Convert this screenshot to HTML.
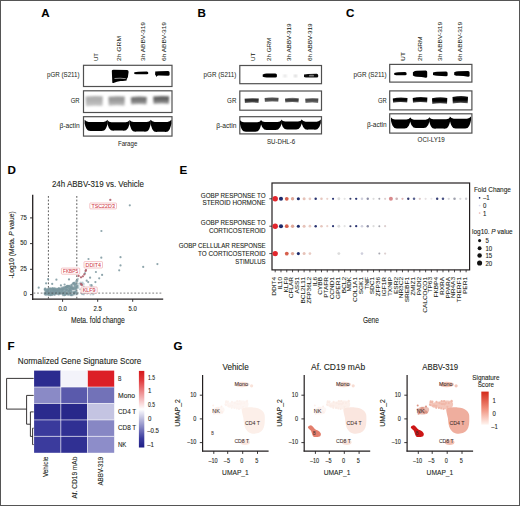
<!DOCTYPE html><html><head><meta charset="utf-8"><title>Figure</title><style>html,body{margin:0;padding:0;background:#fff;width:520px;height:506px;overflow:hidden}svg{display:block;font-family:"Liberation Sans",sans-serif}</style></head><body><svg width="520" height="506" viewBox="0 0 520 506" font-family="Liberation Sans, sans-serif" fill="#231f20"><defs><filter id="b1" x="-20%" y="-40%" width="140%" height="180%"><feGaussianBlur stdDeviation="0.1"/></filter><filter id="b2" x="-20%" y="-40%" width="140%" height="180%"><feGaussianBlur stdDeviation="0.2"/></filter><filter id="b3" x="-20%" y="-40%" width="140%" height="180%"><feGaussianBlur stdDeviation="0.3"/></filter><filter id="b4" x="-20%" y="-40%" width="140%" height="180%"><feGaussianBlur stdDeviation="0.4"/></filter><filter id="b5" x="-20%" y="-40%" width="140%" height="180%"><feGaussianBlur stdDeviation="0.5"/></filter><filter id="b6" x="-20%" y="-40%" width="140%" height="180%"><feGaussianBlur stdDeviation="0.6"/></filter><filter id="b7" x="-20%" y="-40%" width="140%" height="180%"><feGaussianBlur stdDeviation="0.7"/></filter><filter id="b8" x="-20%" y="-40%" width="140%" height="180%"><feGaussianBlur stdDeviation="0.8"/></filter><filter id="b9" x="-20%" y="-40%" width="140%" height="180%"><feGaussianBlur stdDeviation="0.9"/></filter><filter id="b10" x="-20%" y="-40%" width="140%" height="180%"><feGaussianBlur stdDeviation="1.0"/></filter><filter id="b11" x="-20%" y="-40%" width="140%" height="180%"><feGaussianBlur stdDeviation="1.1"/></filter><filter id="b12" x="-20%" y="-40%" width="140%" height="180%"><feGaussianBlur stdDeviation="1.2"/></filter><filter id="b13" x="-20%" y="-40%" width="140%" height="180%"><feGaussianBlur stdDeviation="1.3"/></filter><filter id="b14" x="-20%" y="-40%" width="140%" height="180%"><feGaussianBlur stdDeviation="1.4"/></filter><filter id="b15" x="-20%" y="-40%" width="140%" height="180%"><feGaussianBlur stdDeviation="1.5"/></filter></defs><rect x="0" y="0" width="520" height="506" fill="#fff"/><text x="41.20" y="16.60" font-size="11.60" fill="#000" stroke="#000" stroke-width="0.1" font-weight="bold">A</text>
<text x="197.60" y="16.50" font-size="11.60" fill="#000" stroke="#000" stroke-width="0.1" font-weight="bold">B</text>
<text x="346.00" y="16.60" font-size="11.60" fill="#000" stroke="#000" stroke-width="0.1" font-weight="bold">C</text>
<text x="7.40" y="174.30" font-size="11.60" fill="#000" stroke="#000" stroke-width="0.1" font-weight="bold">D</text>
<text x="179.40" y="174.30" font-size="11.60" fill="#000" stroke="#000" stroke-width="0.1" font-weight="bold">E</text>
<text x="7.40" y="350.30" font-size="11.60" fill="#000" stroke="#000" stroke-width="0.1" font-weight="bold">F</text>
<text x="173.40" y="350.40" font-size="11.60" fill="#000" stroke="#000" stroke-width="0.1" font-weight="bold">G</text>
<rect x="83.50" y="65.30" width="88.50" height="21.20" fill="none" stroke="#505050" stroke-width="1.2"/>
<rect x="83.50" y="90.80" width="88.50" height="21.70" fill="none" stroke="#505050" stroke-width="1.2"/>
<rect x="83.50" y="116.70" width="88.50" height="19.40" fill="none" stroke="#505050" stroke-width="1.2"/>
<text transform="translate(98.00,61.00) rotate(-90)" font-size="5.90" stroke="#231f20" stroke-width="0.04" textLength="8.00" lengthAdjust="spacingAndGlyphs">UT</text>
<text transform="translate(120.80,61.00) rotate(-90)" font-size="5.90" stroke="#231f20" stroke-width="0.04" textLength="25.00" lengthAdjust="spacingAndGlyphs">2h GRM</text>
<text transform="translate(144.60,61.00) rotate(-90)" font-size="5.90" stroke="#231f20" stroke-width="0.04" textLength="39.00" lengthAdjust="spacingAndGlyphs">3h ABBV-319</text>
<text transform="translate(166.30,61.00) rotate(-90)" font-size="5.90" stroke="#231f20" stroke-width="0.04" textLength="39.00" lengthAdjust="spacingAndGlyphs">6h ABBV-319</text>
<text x="79.60" y="76.50" font-size="6.50" text-anchor="end" stroke="#231f20" stroke-width="0.03" textLength="32.60" lengthAdjust="spacingAndGlyphs">pGR (S211)</text>
<text x="79.60" y="102.80" font-size="6.50" text-anchor="end" stroke="#231f20" stroke-width="0.03" textLength="8.90" lengthAdjust="spacingAndGlyphs">GR</text>
<text x="79.60" y="127.70" font-size="6.50" text-anchor="end" stroke="#231f20" stroke-width="0.03" textLength="20.10" lengthAdjust="spacingAndGlyphs">β-actin</text>
<text x="127.60" y="146.20" font-size="6.60" text-anchor="middle" stroke="#231f20" stroke-width="0.03" textLength="19.40" lengthAdjust="spacingAndGlyphs">Farage</text>
<rect x="239.80" y="65.50" width="81.70" height="18.20" fill="none" stroke="#505050" stroke-width="1.2"/>
<rect x="239.80" y="91.00" width="81.70" height="19.20" fill="none" stroke="#505050" stroke-width="1.2"/>
<rect x="239.80" y="116.70" width="81.70" height="17.20" fill="none" stroke="#505050" stroke-width="1.2"/>
<text transform="translate(254.60,61.00) rotate(-90)" font-size="5.90" stroke="#231f20" stroke-width="0.04" textLength="8.30" lengthAdjust="spacingAndGlyphs">UT</text>
<text transform="translate(270.60,61.00) rotate(-90)" font-size="5.90" stroke="#231f20" stroke-width="0.04" textLength="23.20" lengthAdjust="spacingAndGlyphs">2h GRM</text>
<text transform="translate(290.90,61.00) rotate(-90)" font-size="5.90" stroke="#231f20" stroke-width="0.04" textLength="37.50" lengthAdjust="spacingAndGlyphs">3h ABBV-319</text>
<text transform="translate(311.50,61.00) rotate(-90)" font-size="5.90" stroke="#231f20" stroke-width="0.04" textLength="37.50" lengthAdjust="spacingAndGlyphs">6h ABBV-319</text>
<text x="236.40" y="76.50" font-size="6.50" text-anchor="end" stroke="#231f20" stroke-width="0.03" textLength="32.80" lengthAdjust="spacingAndGlyphs">pGR (S211)</text>
<text x="236.40" y="103.00" font-size="6.50" text-anchor="end" stroke="#231f20" stroke-width="0.03" textLength="9.30" lengthAdjust="spacingAndGlyphs">GR</text>
<text x="236.40" y="127.70" font-size="6.50" text-anchor="end" stroke="#231f20" stroke-width="0.03" textLength="20.20" lengthAdjust="spacingAndGlyphs">β-actin</text>
<text x="281.10" y="143.60" font-size="6.60" text-anchor="middle" stroke="#231f20" stroke-width="0.03" textLength="28.30" lengthAdjust="spacingAndGlyphs">SU-DHL-6</text>
<rect x="389.70" y="64.40" width="82.20" height="17.70" fill="none" stroke="#505050" stroke-width="1.2"/>
<rect x="389.70" y="90.90" width="82.20" height="19.00" fill="none" stroke="#505050" stroke-width="1.2"/>
<rect x="389.70" y="113.80" width="82.20" height="19.30" fill="none" stroke="#505050" stroke-width="1.2"/>
<text transform="translate(404.60,61.00) rotate(-90)" font-size="5.90" stroke="#231f20" stroke-width="0.04" textLength="9.00" lengthAdjust="spacingAndGlyphs">UT</text>
<text transform="translate(421.80,61.00) rotate(-90)" font-size="5.90" stroke="#231f20" stroke-width="0.04" textLength="24.50" lengthAdjust="spacingAndGlyphs">2h GRM</text>
<text transform="translate(442.00,61.00) rotate(-90)" font-size="5.90" stroke="#231f20" stroke-width="0.04" textLength="39.10" lengthAdjust="spacingAndGlyphs">3h ABBV-319</text>
<text transform="translate(462.30,61.00) rotate(-90)" font-size="5.90" stroke="#231f20" stroke-width="0.04" textLength="39.10" lengthAdjust="spacingAndGlyphs">6h ABBV-319</text>
<text x="386.70" y="76.70" font-size="6.50" text-anchor="end" stroke="#231f20" stroke-width="0.03" textLength="33.20" lengthAdjust="spacingAndGlyphs">pGR (S211)</text>
<text x="386.70" y="102.90" font-size="6.50" text-anchor="end" stroke="#231f20" stroke-width="0.03" textLength="8.70" lengthAdjust="spacingAndGlyphs">GR</text>
<text x="386.70" y="127.20" font-size="6.50" text-anchor="end" stroke="#231f20" stroke-width="0.03" textLength="19.80" lengthAdjust="spacingAndGlyphs">β-actin</text>
<text x="431.20" y="142.40" font-size="6.60" text-anchor="middle" stroke="#231f20" stroke-width="0.03" textLength="27.20" lengthAdjust="spacingAndGlyphs">OCI-LY19</text>
<path d="M111.8,70.8 Q112,69.8 113.5,69.8 L127.3,69.9 Q128.8,70.1 128.6,72 L127.9,77 Q127.6,78.2 126.8,78.8 L126.6,80.6 Q124.5,81.3 120.5,81 Q116.5,81.6 114.2,82.8 Q112.6,83.4 112.3,82.4 Z" fill="#000" filter="url(#b5)"/>
<path d="M114.5,78.5 Q120,77.8 125.8,78.7" stroke="#a0a0a0" stroke-width="0.9" fill="none" filter="url(#b4)"/>
<path d="M134.30,72.17 Q136.30,71.80 138.30,71.80 L146.80,71.60 Q148.30,71.80 148.30,73.00 L148.30,73.30 Q148.30,74.30 146.80,74.30 Q143.30,74.30 138.30,74.30 Q136.30,74.30 134.30,73.92 Z" fill="#000" filter="url(#b5)"/>
<path d="M155.20,71.51 Q157.20,71.30 159.20,71.30 L168.10,71.10 Q169.60,71.30 169.60,72.50 L169.60,74.80 Q169.60,75.80 168.10,75.80 Q164.40,75.50 159.20,75.50 Q157.20,75.50 155.20,75.29 Z" fill="#000" filter="url(#b5)"/>
<path d="M155.4,73 L156.3,77 L158,75 Z" fill="#000" filter="url(#b5)"/>
<defs><linearGradient id="g45" x1="0" y1="0" x2="0" y2="1"><stop offset="0" stop-color="#b0b0b0"/><stop offset="0.45" stop-color="#b0b0b0"/><stop offset="1" stop-color="#cacaca"/></linearGradient></defs>
<path d="M85.60,96.60 Q94.20,95.40 102.80,96.36 L102.50,106.08 Q94.20,105.24 85.90,106.20 Z" fill="url(#g45)" filter="url(#b8)"/>
<defs><linearGradient id="g47" x1="0" y1="0" x2="0" y2="1"><stop offset="0" stop-color="#9a9a9a"/><stop offset="0.45" stop-color="#9a9a9a"/><stop offset="1" stop-color="#c2c2c2"/></linearGradient></defs>
<path d="M108.40,96.80 Q116.60,95.60 124.80,96.56 L124.50,105.68 Q116.60,104.84 108.70,105.80 Z" fill="url(#g47)" filter="url(#b8)"/>
<defs><linearGradient id="g49" x1="0" y1="0" x2="0" y2="1"><stop offset="0" stop-color="#747474"/><stop offset="0.45" stop-color="#747474"/><stop offset="1" stop-color="#b0b0b0"/></linearGradient></defs>
<path d="M130.80,97.20 Q138.80,96.00 146.80,96.96 L146.50,104.48 Q138.80,103.64 131.10,104.60 Z" fill="url(#g49)" filter="url(#b8)"/>
<defs><linearGradient id="g51" x1="0" y1="0" x2="0" y2="1"><stop offset="0" stop-color="#636363"/><stop offset="0.45" stop-color="#636363"/><stop offset="1" stop-color="#a8a8a8"/></linearGradient></defs>
<path d="M153.20,96.60 Q161.20,95.40 169.20,96.36 L168.90,103.88 Q161.20,103.04 153.50,104.00 Z" fill="url(#g51)" filter="url(#b8)"/>
<path d="M84.60,119.80 Q86.10,121.60 88.60,121.90 L103.60,121.90 Q106.10,121.60 107.60,119.80 L107.60,123.50 Q106.40,129.00 104.10,130.60 Q102.60,131.30 100.60,131.00 L91.60,131.00 Q89.60,131.30 88.10,130.60 Q85.80,129.00 84.60,123.50 Z" fill="#000" filter="url(#b5)"/>
<path d="M107.40,120.20 Q108.90,122.00 111.40,122.30 L125.60,122.30 Q128.10,122.00 129.60,120.20 L129.60,123.90 Q128.40,128.60 126.10,130.20 Q124.60,130.90 122.60,130.60 L114.40,130.60 Q112.40,130.90 110.90,130.20 Q108.60,128.60 107.40,123.90 Z" fill="#000" filter="url(#b5)"/>
<path d="M129.60,120.00 Q131.10,121.80 133.60,122.10 L146.80,122.10 Q149.30,121.80 150.80,120.00 L150.80,123.70 Q149.60,129.60 147.30,131.20 Q145.80,131.90 143.80,131.60 L136.60,131.60 Q134.60,131.90 133.10,131.20 Q130.80,129.60 129.60,123.70 Z" fill="#000" filter="url(#b5)"/>
<path d="M150.60,119.80 Q152.10,121.60 154.60,121.90 L167.40,121.90 Q169.90,121.60 171.40,119.80 L171.40,123.50 Q170.20,129.80 167.90,131.40 Q166.40,132.10 164.40,131.80 L157.60,131.80 Q155.60,132.10 154.10,131.40 Q151.80,129.80 150.60,123.50 Z" fill="#000" filter="url(#b5)"/>
<path d="M262.70,74.40 Q264.70,73.60 266.70,73.60 L275.40,73.40 Q276.90,73.60 276.90,74.80 L276.90,76.60 Q276.90,77.60 275.40,77.60 Q271.80,77.60 266.70,77.60 Q264.70,77.60 262.70,76.80 Z" fill="#000" filter="url(#b5)"/>
<rect x="283.50" y="75.00" width="3.00" height="1.80" rx="1" fill="#ccc" opacity="1" filter="url(#b8)"/>
<rect x="294.00" y="75.00" width="3.00" height="1.80" rx="1" fill="#bbb" opacity="1" filter="url(#b8)"/>
<path d="M304.00,74.51 Q306.00,74.00 308.00,74.00 L316.70,73.80 Q318.20,74.00 318.20,75.20 L318.20,76.40 Q318.20,77.40 316.70,77.40 Q313.10,77.40 308.00,77.40 Q306.00,77.40 304.00,76.89 Z" fill="#111" filter="url(#b5)"/>
<rect x="309.00" y="74.80" width="5.00" height="1.80" rx="1" fill="#777" opacity="1" filter="url(#b6)"/>
<defs><linearGradient id="g62" x1="0" y1="0" x2="0" y2="1"><stop offset="0" stop-color="#999"/><stop offset="0.3" stop-color="#333"/><stop offset="0.6" stop-color="#333"/><stop offset="1" stop-color="#777"/></linearGradient></defs>
<path d="M244.60,98.60 Q251.70,97.40 258.80,98.36 L258.50,102.88 Q251.70,102.04 244.90,103.00 Z" fill="url(#g62)" filter="url(#b6)"/>
<defs><linearGradient id="g64" x1="0" y1="0" x2="0" y2="1"><stop offset="0" stop-color="#999"/><stop offset="0.3" stop-color="#4a4a4a"/><stop offset="0.6" stop-color="#4a4a4a"/><stop offset="1" stop-color="#888"/></linearGradient></defs>
<path d="M264.60,97.90 Q271.60,96.70 278.60,97.66 L278.30,101.78 Q271.60,100.94 264.90,101.90 Z" fill="url(#g64)" filter="url(#b6)"/>
<defs><linearGradient id="g66" x1="0" y1="0" x2="0" y2="1"><stop offset="0" stop-color="#999"/><stop offset="0.3" stop-color="#404040"/><stop offset="0.6" stop-color="#404040"/><stop offset="1" stop-color="#808080"/></linearGradient></defs>
<path d="M285.00,98.40 Q291.90,97.20 298.80,98.16 L298.50,102.38 Q291.90,101.54 285.30,102.50 Z" fill="url(#g66)" filter="url(#b6)"/>
<defs><linearGradient id="g68" x1="0" y1="0" x2="0" y2="1"><stop offset="0" stop-color="#999"/><stop offset="0.3" stop-color="#4e4e4e"/><stop offset="0.6" stop-color="#4e4e4e"/><stop offset="1" stop-color="#8a8a8a"/></linearGradient></defs>
<path d="M305.20,98.60 Q311.80,97.40 318.40,98.36 L318.10,102.88 Q311.80,102.04 305.50,103.00 Z" fill="url(#g68)" filter="url(#b6)"/>
<path d="M240.00,120.20 Q241.50,122.00 244.00,122.30 L257.20,122.30 Q259.70,122.00 261.20,120.20 L261.20,123.90 Q260.00,129.70 257.70,131.30 Q256.20,132.00 254.20,131.70 L247.00,131.70 Q245.00,132.00 243.50,131.30 Q241.20,129.70 240.00,123.90 Z" fill="#000" filter="url(#b5)"/>
<path d="M260.80,120.00 Q262.30,121.80 264.80,122.10 L277.60,122.10 Q280.10,121.80 281.60,120.00 L281.60,123.70 Q280.40,128.00 278.10,129.60 Q276.60,130.30 274.60,130.00 L267.80,130.00 Q265.80,130.30 264.30,129.60 Q262.00,128.00 260.80,123.70 Z" fill="#000" filter="url(#b5)"/>
<path d="M281.20,119.40 Q282.70,121.20 285.20,121.50 L298.00,121.50 Q300.50,121.20 302.00,119.40 L302.00,123.10 Q300.80,127.40 298.50,129.00 Q297.00,129.70 295.00,129.40 L288.20,129.40 Q286.20,129.70 284.70,129.00 Q282.40,127.40 281.20,123.10 Z" fill="#000" filter="url(#b5)"/>
<path d="M301.60,119.60 Q303.10,121.40 305.60,121.70 L316.80,121.70 Q319.30,121.40 320.80,119.60 L320.80,123.30 Q319.60,127.60 317.30,129.20 Q315.80,129.90 313.80,129.60 L308.60,129.60 Q306.60,129.90 305.10,129.20 Q302.80,127.60 301.60,123.30 Z" fill="#000" filter="url(#b5)"/>
<path d="M394.20,72.90 Q396.20,72.30 398.20,72.30 L405.10,72.10 Q406.60,72.30 406.60,73.50 L406.60,74.30 Q406.60,75.30 405.10,75.30 Q402.40,75.30 398.20,75.30 Q396.20,75.30 394.20,74.70 Z" fill="#000" filter="url(#b5)"/>
<path d="M412.90,72.15 Q414.90,70.80 416.90,70.80 L425.70,70.60 Q427.20,70.80 427.20,72.00 L427.20,76.80 Q427.20,77.80 425.70,77.80 Q422.05,76.80 416.90,76.80 Q414.90,76.80 412.90,75.45 Z" fill="#000" filter="url(#b5)"/>
<path d="M433.00,72.52 Q435.00,71.70 437.00,71.70 L446.10,71.50 Q447.60,71.70 447.60,72.90 L447.60,75.30 Q447.60,76.30 446.10,76.30 Q442.30,75.80 437.00,75.80 Q435.00,75.80 433.00,74.98 Z" fill="#000" filter="url(#b5)"/>
<path d="M454.20,72.20 Q456.20,71.30 458.20,71.30 L468.10,71.10 Q469.60,71.30 469.60,72.50 L469.60,75.80 Q469.60,76.80 468.10,76.80 Q463.90,75.80 458.20,75.80 Q456.20,75.80 454.20,74.90 Z" fill="#000" filter="url(#b5)"/>
<defs><linearGradient id="g78" x1="0" y1="0" x2="0" y2="1"><stop offset="0" stop-color="#333"/><stop offset="0.25" stop-color="#000"/><stop offset="0.6" stop-color="#080808"/><stop offset="1" stop-color="#666"/></linearGradient></defs>
<path d="M392.80,98.40 Q400.15,96.60 407.50,98.04 L407.20,102.62 Q400.15,101.36 393.10,102.80 Z" fill="url(#g78)" filter="url(#b5)"/>
<defs><linearGradient id="g80" x1="0" y1="0" x2="0" y2="1"><stop offset="0" stop-color="#333"/><stop offset="0.25" stop-color="#000"/><stop offset="0.6" stop-color="#080808"/><stop offset="1" stop-color="#666"/></linearGradient></defs>
<path d="M412.70,97.90 Q420.05,96.10 427.40,97.54 L427.10,102.62 Q420.05,101.36 413.00,102.80 Z" fill="url(#g80)" filter="url(#b5)"/>
<defs><linearGradient id="g82" x1="0" y1="0" x2="0" y2="1"><stop offset="0" stop-color="#333"/><stop offset="0.25" stop-color="#000"/><stop offset="0.6" stop-color="#080808"/><stop offset="1" stop-color="#666"/></linearGradient></defs>
<path d="M432.00,98.30 Q439.65,96.50 447.30,97.94 L447.00,103.82 Q439.65,102.56 432.30,104.00 Z" fill="url(#g82)" filter="url(#b5)"/>
<defs><linearGradient id="g84" x1="0" y1="0" x2="0" y2="1"><stop offset="0" stop-color="#333"/><stop offset="0.25" stop-color="#000"/><stop offset="0.6" stop-color="#080808"/><stop offset="1" stop-color="#666"/></linearGradient></defs>
<path d="M452.50,97.10 Q460.25,95.30 468.00,96.74 L467.70,103.22 Q460.25,101.96 452.80,103.40 Z" fill="url(#g84)" filter="url(#b5)"/>
<path d="M391.00,117.40 Q392.50,119.20 395.00,119.50 L406.40,119.50 Q408.90,119.20 410.40,117.40 L410.40,121.10 Q409.20,126.40 406.90,128.00 Q405.40,128.70 403.40,128.40 L398.00,128.40 Q396.00,128.70 394.50,128.00 Q392.20,126.40 391.00,121.10 Z" fill="#000" filter="url(#b5)"/>
<path d="M410.00,117.60 Q411.50,119.40 414.00,119.70 L425.60,119.70 Q428.10,119.40 429.60,117.60 L429.60,121.30 Q428.40,126.00 426.10,127.60 Q424.60,128.30 422.60,128.00 L417.00,128.00 Q415.00,128.30 413.50,127.60 Q411.20,126.00 410.00,121.30 Z" fill="#000" filter="url(#b5)"/>
<path d="M429.20,117.20 Q430.70,119.00 433.20,119.30 L446.20,119.30 Q448.70,119.00 450.20,117.20 L450.20,120.90 Q449.00,126.60 446.70,128.20 Q445.20,128.90 443.20,128.60 L436.20,128.60 Q434.20,128.90 432.70,128.20 Q430.40,126.60 429.20,120.90 Z" fill="#000" filter="url(#b5)"/>
<path d="M449.80,116.60 Q451.30,118.40 453.80,118.70 L467.00,118.70 Q469.50,118.40 471.00,116.60 L471.00,120.30 Q469.80,126.40 467.50,128.00 Q466.00,128.70 464.00,128.40 L456.80,128.40 Q454.80,128.70 453.30,128.00 Q451.00,126.40 449.80,120.30 Z" fill="#000" filter="url(#b5)"/>
<text x="51.90" y="187.40" font-size="8.60" stroke="#231f20" stroke-width="0.1" textLength="92.10" lengthAdjust="spacingAndGlyphs">24h ABBV-319 vs. Vehicle</text>
<line x1="32.70" y1="194.80" x2="32.70" y2="299.90" stroke="#231f20" stroke-width="1.3"/>
<line x1="32.00" y1="299.20" x2="163.20" y2="299.20" stroke="#231f20" stroke-width="1.3"/>
<line x1="30.00" y1="294.60" x2="32.70" y2="294.60" stroke="#231f20" stroke-width="0.9"/>
<text x="26.80" y="296.20" font-size="6.50" text-anchor="end" stroke="#231f20" stroke-width="0.1" textLength="3.33" lengthAdjust="spacingAndGlyphs">0</text>
<line x1="30.00" y1="269.30" x2="32.70" y2="269.30" stroke="#231f20" stroke-width="0.9"/>
<text x="26.80" y="270.90" font-size="6.50" text-anchor="end" stroke="#231f20" stroke-width="0.1" textLength="6.65" lengthAdjust="spacingAndGlyphs">25</text>
<line x1="30.00" y1="243.60" x2="32.70" y2="243.60" stroke="#231f20" stroke-width="0.9"/>
<text x="26.80" y="245.20" font-size="6.50" text-anchor="end" stroke="#231f20" stroke-width="0.1" textLength="6.65" lengthAdjust="spacingAndGlyphs">50</text>
<line x1="30.00" y1="217.90" x2="32.70" y2="217.90" stroke="#231f20" stroke-width="0.9"/>
<text x="26.80" y="219.50" font-size="6.50" text-anchor="end" stroke="#231f20" stroke-width="0.1" textLength="6.65" lengthAdjust="spacingAndGlyphs">75</text>
<line x1="62.60" y1="299.20" x2="62.60" y2="301.80" stroke="#231f20" stroke-width="0.9"/>
<text x="62.60" y="310.90" font-size="6.50" text-anchor="middle" stroke="#231f20" stroke-width="0.1" textLength="8.31" lengthAdjust="spacingAndGlyphs">0.0</text>
<line x1="97.70" y1="299.20" x2="97.70" y2="301.80" stroke="#231f20" stroke-width="0.9"/>
<text x="97.70" y="310.90" font-size="6.50" text-anchor="middle" stroke="#231f20" stroke-width="0.1" textLength="8.31" lengthAdjust="spacingAndGlyphs">2.5</text>
<line x1="132.70" y1="299.20" x2="132.70" y2="301.80" stroke="#231f20" stroke-width="0.9"/>
<text x="132.70" y="310.90" font-size="6.50" text-anchor="middle" stroke="#231f20" stroke-width="0.1" textLength="8.31" lengthAdjust="spacingAndGlyphs">5.0</text>
<text x="71.00" y="322.90" font-size="8.40" stroke="#231f20" stroke-width="0.1" textLength="53.80" lengthAdjust="spacingAndGlyphs">Meta. fold change</text>
<text transform="translate(14.3,278.6) rotate(-90)" font-size="7.0" textLength="67.2" lengthAdjust="spacingAndGlyphs" stroke="#231f20" stroke-width="0.12">-Log10 (Meta. <tspan font-style="italic">P</tspan> value)</text>
<line x1="48.40" y1="196.00" x2="48.40" y2="298.50" stroke="#333" stroke-width="0.8" stroke-dasharray="1.8,1.8"/>
<line x1="76.80" y1="196.00" x2="76.80" y2="298.50" stroke="#333" stroke-width="0.8" stroke-dasharray="1.8,1.8"/>
<circle cx="52.5" cy="290.9" r="1.05" fill="#7b979f" opacity="0.5"/>
<circle cx="56.9" cy="290.5" r="1.05" fill="#7b979f" opacity="0.5"/>
<circle cx="65.5" cy="294.4" r="1.05" fill="#7b979f" opacity="0.5"/>
<circle cx="44.9" cy="289.3" r="1.05" fill="#7b979f" opacity="0.5"/>
<circle cx="53.2" cy="293.1" r="1.05" fill="#7b979f" opacity="0.5"/>
<circle cx="77.9" cy="285.8" r="1.05" fill="#7b979f" opacity="0.5"/>
<circle cx="72.5" cy="288.9" r="1.05" fill="#7b979f" opacity="0.5"/>
<circle cx="65.9" cy="293.4" r="1.05" fill="#7b979f" opacity="0.5"/>
<circle cx="65.8" cy="287.3" r="1.05" fill="#7b979f" opacity="0.5"/>
<circle cx="62.0" cy="289.1" r="1.05" fill="#7b979f" opacity="0.5"/>
<circle cx="67.0" cy="294.4" r="1.05" fill="#7b979f" opacity="0.5"/>
<circle cx="69.9" cy="288.7" r="1.05" fill="#7b979f" opacity="0.5"/>
<circle cx="54.6" cy="294.9" r="1.05" fill="#7b979f" opacity="0.5"/>
<circle cx="73.5" cy="288.6" r="1.05" fill="#7b979f" opacity="0.5"/>
<circle cx="68.6" cy="286.5" r="1.05" fill="#7b979f" opacity="0.5"/>
<circle cx="68.4" cy="286.2" r="1.05" fill="#7b979f" opacity="0.5"/>
<circle cx="57.7" cy="289.2" r="1.05" fill="#7b979f" opacity="0.5"/>
<circle cx="59.4" cy="288.3" r="1.05" fill="#7b979f" opacity="0.5"/>
<circle cx="73.9" cy="293.4" r="1.05" fill="#7b979f" opacity="0.5"/>
<circle cx="49.1" cy="293.3" r="1.05" fill="#7b979f" opacity="0.5"/>
<circle cx="76.8" cy="287.1" r="1.05" fill="#7b979f" opacity="0.5"/>
<circle cx="65.5" cy="291.9" r="1.05" fill="#7b979f" opacity="0.5"/>
<circle cx="61.5" cy="291.7" r="1.05" fill="#7b979f" opacity="0.5"/>
<circle cx="56.3" cy="290.6" r="1.05" fill="#7b979f" opacity="0.5"/>
<circle cx="64.1" cy="287.4" r="1.05" fill="#7b979f" opacity="0.5"/>
<circle cx="67.3" cy="286.4" r="1.05" fill="#7b979f" opacity="0.5"/>
<circle cx="73.2" cy="283.3" r="1.05" fill="#7b979f" opacity="0.5"/>
<circle cx="67.0" cy="293.2" r="1.05" fill="#7b979f" opacity="0.5"/>
<circle cx="73.3" cy="283.5" r="1.05" fill="#7b979f" opacity="0.5"/>
<circle cx="74.8" cy="287.0" r="1.05" fill="#7b979f" opacity="0.5"/>
<circle cx="68.4" cy="292.6" r="1.05" fill="#7b979f" opacity="0.5"/>
<circle cx="72.4" cy="287.9" r="1.05" fill="#7b979f" opacity="0.5"/>
<circle cx="54.0" cy="294.6" r="1.05" fill="#7b979f" opacity="0.5"/>
<circle cx="73.1" cy="283.3" r="1.05" fill="#7b979f" opacity="0.5"/>
<circle cx="47.5" cy="289.5" r="1.05" fill="#7b979f" opacity="0.5"/>
<circle cx="58.3" cy="293.8" r="1.05" fill="#7b979f" opacity="0.5"/>
<circle cx="54.3" cy="289.5" r="1.05" fill="#7b979f" opacity="0.5"/>
<circle cx="73.7" cy="294.4" r="1.05" fill="#7b979f" opacity="0.5"/>
<circle cx="65.1" cy="294.7" r="1.05" fill="#7b979f" opacity="0.5"/>
<circle cx="68.6" cy="291.3" r="1.05" fill="#7b979f" opacity="0.5"/>
<circle cx="74.0" cy="282.9" r="1.05" fill="#7b979f" opacity="0.5"/>
<circle cx="61.4" cy="287.5" r="1.05" fill="#7b979f" opacity="0.5"/>
<circle cx="54.9" cy="294.5" r="1.05" fill="#7b979f" opacity="0.5"/>
<circle cx="64.6" cy="294.8" r="1.05" fill="#7b979f" opacity="0.5"/>
<circle cx="51.1" cy="291.9" r="1.05" fill="#7b979f" opacity="0.5"/>
<circle cx="65.0" cy="293.4" r="1.05" fill="#7b979f" opacity="0.5"/>
<circle cx="45.9" cy="289.1" r="1.05" fill="#7b979f" opacity="0.5"/>
<circle cx="55.0" cy="288.3" r="1.05" fill="#7b979f" opacity="0.5"/>
<circle cx="74.5" cy="289.4" r="1.05" fill="#7b979f" opacity="0.5"/>
<circle cx="59.9" cy="291.0" r="1.05" fill="#7b979f" opacity="0.5"/>
<circle cx="66.1" cy="289.3" r="1.05" fill="#7b979f" opacity="0.5"/>
<circle cx="63.2" cy="289.7" r="1.05" fill="#7b979f" opacity="0.5"/>
<circle cx="76.0" cy="286.8" r="1.05" fill="#7b979f" opacity="0.5"/>
<circle cx="58.9" cy="289.7" r="1.05" fill="#7b979f" opacity="0.5"/>
<circle cx="52.5" cy="292.6" r="1.05" fill="#7b979f" opacity="0.5"/>
<circle cx="77.3" cy="285.5" r="1.05" fill="#7b979f" opacity="0.5"/>
<circle cx="62.9" cy="295.2" r="1.05" fill="#7b979f" opacity="0.5"/>
<circle cx="58.4" cy="290.6" r="1.05" fill="#7b979f" opacity="0.5"/>
<circle cx="45.2" cy="290.6" r="1.05" fill="#7b979f" opacity="0.5"/>
<circle cx="65.7" cy="294.4" r="1.05" fill="#7b979f" opacity="0.5"/>
<circle cx="65.5" cy="290.5" r="1.05" fill="#7b979f" opacity="0.5"/>
<circle cx="67.3" cy="291.3" r="1.05" fill="#7b979f" opacity="0.5"/>
<circle cx="68.2" cy="287.7" r="1.05" fill="#7b979f" opacity="0.5"/>
<circle cx="45.2" cy="294.7" r="1.05" fill="#7b979f" opacity="0.5"/>
<circle cx="67.1" cy="286.2" r="1.05" fill="#7b979f" opacity="0.5"/>
<circle cx="52.9" cy="291.5" r="1.05" fill="#7b979f" opacity="0.5"/>
<circle cx="64.4" cy="291.9" r="1.05" fill="#7b979f" opacity="0.5"/>
<circle cx="56.7" cy="292.5" r="1.05" fill="#7b979f" opacity="0.5"/>
<circle cx="56.9" cy="290.5" r="1.05" fill="#7b979f" opacity="0.5"/>
<circle cx="54.6" cy="292.0" r="1.05" fill="#7b979f" opacity="0.5"/>
<circle cx="70.4" cy="294.8" r="1.05" fill="#7b979f" opacity="0.5"/>
<circle cx="63.6" cy="288.8" r="1.05" fill="#7b979f" opacity="0.5"/>
<circle cx="54.9" cy="293.2" r="1.05" fill="#7b979f" opacity="0.5"/>
<circle cx="71.4" cy="291.9" r="1.05" fill="#7b979f" opacity="0.5"/>
<circle cx="50.8" cy="291.7" r="1.05" fill="#7b979f" opacity="0.5"/>
<circle cx="67.9" cy="293.8" r="1.05" fill="#7b979f" opacity="0.5"/>
<circle cx="55.3" cy="292.3" r="1.05" fill="#7b979f" opacity="0.5"/>
<circle cx="72.4" cy="289.3" r="1.05" fill="#7b979f" opacity="0.5"/>
<circle cx="73.2" cy="292.5" r="1.05" fill="#7b979f" opacity="0.5"/>
<circle cx="55.8" cy="290.2" r="1.05" fill="#7b979f" opacity="0.5"/>
<circle cx="74.1" cy="288.6" r="1.05" fill="#7b979f" opacity="0.5"/>
<circle cx="52.0" cy="294.1" r="1.05" fill="#7b979f" opacity="0.5"/>
<circle cx="62.2" cy="293.2" r="1.05" fill="#7b979f" opacity="0.5"/>
<circle cx="71.5" cy="285.7" r="1.05" fill="#7b979f" opacity="0.5"/>
<circle cx="50.7" cy="292.8" r="1.05" fill="#7b979f" opacity="0.5"/>
<circle cx="71.5" cy="287.5" r="1.05" fill="#7b979f" opacity="0.5"/>
<circle cx="71.5" cy="290.6" r="1.05" fill="#7b979f" opacity="0.5"/>
<circle cx="48.8" cy="292.7" r="1.05" fill="#7b979f" opacity="0.5"/>
<circle cx="71.1" cy="291.5" r="1.05" fill="#7b979f" opacity="0.5"/>
<circle cx="56.1" cy="291.7" r="1.05" fill="#7b979f" opacity="0.5"/>
<circle cx="58.6" cy="291.8" r="1.05" fill="#7b979f" opacity="0.5"/>
<circle cx="75.3" cy="292.3" r="1.05" fill="#7b979f" opacity="0.5"/>
<circle cx="44.7" cy="288.7" r="1.05" fill="#7b979f" opacity="0.5"/>
<circle cx="74.0" cy="282.8" r="1.05" fill="#7b979f" opacity="0.5"/>
<circle cx="59.1" cy="288.2" r="1.05" fill="#7b979f" opacity="0.5"/>
<circle cx="75.6" cy="291.2" r="1.05" fill="#7b979f" opacity="0.5"/>
<circle cx="69.5" cy="286.6" r="1.05" fill="#7b979f" opacity="0.5"/>
<circle cx="66.7" cy="289.9" r="1.05" fill="#7b979f" opacity="0.5"/>
<circle cx="54.2" cy="292.3" r="1.05" fill="#7b979f" opacity="0.5"/>
<circle cx="52.1" cy="294.6" r="1.05" fill="#7b979f" opacity="0.5"/>
<circle cx="64.2" cy="292.2" r="1.05" fill="#7b979f" opacity="0.5"/>
<circle cx="71.6" cy="294.5" r="1.05" fill="#7b979f" opacity="0.5"/>
<circle cx="74.8" cy="285.6" r="1.05" fill="#7b979f" opacity="0.5"/>
<circle cx="75.4" cy="282.6" r="1.05" fill="#7b979f" opacity="0.5"/>
<circle cx="74.6" cy="287.0" r="1.05" fill="#7b979f" opacity="0.5"/>
<circle cx="44.9" cy="289.8" r="1.05" fill="#7b979f" opacity="0.5"/>
<circle cx="50.3" cy="292.7" r="1.05" fill="#7b979f" opacity="0.5"/>
<circle cx="66.7" cy="289.8" r="1.05" fill="#7b979f" opacity="0.5"/>
<circle cx="58.4" cy="288.3" r="1.05" fill="#7b979f" opacity="0.5"/>
<circle cx="65.0" cy="291.6" r="1.05" fill="#7b979f" opacity="0.5"/>
<circle cx="53.0" cy="288.9" r="1.05" fill="#7b979f" opacity="0.5"/>
<circle cx="60.5" cy="289.1" r="1.05" fill="#7b979f" opacity="0.5"/>
<circle cx="56.3" cy="293.4" r="1.05" fill="#7b979f" opacity="0.5"/>
<circle cx="62.4" cy="288.4" r="1.05" fill="#7b979f" opacity="0.5"/>
<circle cx="50.2" cy="289.4" r="1.05" fill="#7b979f" opacity="0.5"/>
<circle cx="75.4" cy="283.7" r="1.05" fill="#7b979f" opacity="0.5"/>
<circle cx="72.1" cy="295.2" r="1.05" fill="#7b979f" opacity="0.5"/>
<circle cx="65.6" cy="287.4" r="1.05" fill="#7b979f" opacity="0.5"/>
<circle cx="46.2" cy="292.9" r="1.05" fill="#7b979f" opacity="0.5"/>
<circle cx="53.5" cy="291.0" r="1.05" fill="#7b979f" opacity="0.5"/>
<circle cx="58.7" cy="291.3" r="1.05" fill="#7b979f" opacity="0.5"/>
<circle cx="70.5" cy="295.3" r="1.05" fill="#7b979f" opacity="0.5"/>
<circle cx="46.3" cy="294.0" r="1.05" fill="#7b979f" opacity="0.5"/>
<circle cx="48.7" cy="294.6" r="1.05" fill="#7b979f" opacity="0.5"/>
<circle cx="77.2" cy="280.8" r="1.05" fill="#7b979f" opacity="0.5"/>
<circle cx="47.4" cy="291.3" r="1.05" fill="#7b979f" opacity="0.5"/>
<circle cx="55.1" cy="292.5" r="1.05" fill="#7b979f" opacity="0.5"/>
<circle cx="56.3" cy="290.2" r="1.05" fill="#7b979f" opacity="0.5"/>
<circle cx="64.2" cy="291.6" r="1.05" fill="#7b979f" opacity="0.5"/>
<circle cx="50.9" cy="292.4" r="1.05" fill="#7b979f" opacity="0.5"/>
<circle cx="48.6" cy="290.9" r="1.05" fill="#7b979f" opacity="0.5"/>
<circle cx="68.5" cy="290.8" r="1.05" fill="#7b979f" opacity="0.5"/>
<circle cx="47.2" cy="293.6" r="1.05" fill="#7b979f" opacity="0.5"/>
<circle cx="57.0" cy="290.5" r="1.05" fill="#7b979f" opacity="0.5"/>
<circle cx="70.7" cy="290.4" r="1.05" fill="#7b979f" opacity="0.5"/>
<circle cx="71.3" cy="287.8" r="1.05" fill="#7b979f" opacity="0.5"/>
<circle cx="59.0" cy="292.0" r="1.05" fill="#7b979f" opacity="0.5"/>
<circle cx="61.1" cy="289.5" r="1.05" fill="#7b979f" opacity="0.5"/>
<circle cx="58.6" cy="289.8" r="1.05" fill="#7b979f" opacity="0.5"/>
<circle cx="59.9" cy="293.0" r="1.05" fill="#7b979f" opacity="0.5"/>
<circle cx="62.5" cy="289.3" r="1.05" fill="#7b979f" opacity="0.5"/>
<circle cx="46.9" cy="291.8" r="1.05" fill="#7b979f" opacity="0.5"/>
<circle cx="58.8" cy="288.7" r="1.05" fill="#7b979f" opacity="0.5"/>
<circle cx="75.9" cy="288.7" r="1.05" fill="#7b979f" opacity="0.5"/>
<circle cx="74.6" cy="284.6" r="1.05" fill="#7b979f" opacity="0.5"/>
<circle cx="53.3" cy="291.5" r="1.05" fill="#7b979f" opacity="0.5"/>
<circle cx="48.6" cy="289.3" r="1.05" fill="#7b979f" opacity="0.5"/>
<circle cx="66.7" cy="286.9" r="1.05" fill="#7b979f" opacity="0.5"/>
<circle cx="71.0" cy="287.5" r="1.05" fill="#7b979f" opacity="0.5"/>
<circle cx="69.1" cy="289.1" r="1.05" fill="#7b979f" opacity="0.5"/>
<circle cx="48.0" cy="290.7" r="1.05" fill="#7b979f" opacity="0.5"/>
<circle cx="44.7" cy="293.9" r="1.05" fill="#7b979f" opacity="0.5"/>
<circle cx="70.4" cy="294.5" r="1.05" fill="#7b979f" opacity="0.5"/>
<circle cx="47.6" cy="294.3" r="1.05" fill="#7b979f" opacity="0.5"/>
<circle cx="74.0" cy="292.2" r="1.05" fill="#7b979f" opacity="0.5"/>
<circle cx="45.3" cy="289.3" r="1.05" fill="#7b979f" opacity="0.5"/>
<circle cx="48.6" cy="289.2" r="1.05" fill="#7b979f" opacity="0.5"/>
<circle cx="67.1" cy="287.2" r="1.05" fill="#7b979f" opacity="0.5"/>
<circle cx="76.4" cy="285.4" r="1.05" fill="#7b979f" opacity="0.5"/>
<circle cx="71.3" cy="294.6" r="1.05" fill="#7b979f" opacity="0.5"/>
<circle cx="70.2" cy="289.3" r="1.05" fill="#7b979f" opacity="0.5"/>
<circle cx="68.5" cy="293.8" r="1.05" fill="#7b979f" opacity="0.5"/>
<circle cx="69.6" cy="285.8" r="1.05" fill="#7b979f" opacity="0.5"/>
<circle cx="46.5" cy="292.5" r="1.05" fill="#7b979f" opacity="0.5"/>
<circle cx="63.4" cy="288.1" r="1.05" fill="#7b979f" opacity="0.5"/>
<circle cx="52.6" cy="293.6" r="1.05" fill="#7b979f" opacity="0.5"/>
<circle cx="52.9" cy="290.5" r="1.05" fill="#7b979f" opacity="0.5"/>
<circle cx="69.7" cy="290.5" r="1.05" fill="#7b979f" opacity="0.5"/>
<circle cx="56.8" cy="291.9" r="1.05" fill="#7b979f" opacity="0.5"/>
<circle cx="56.2" cy="291.7" r="1.05" fill="#7b979f" opacity="0.5"/>
<circle cx="47.3" cy="291.3" r="1.05" fill="#7b979f" opacity="0.5"/>
<circle cx="77.1" cy="287.3" r="1.05" fill="#7b979f" opacity="0.5"/>
<circle cx="69.5" cy="293.0" r="1.05" fill="#7b979f" opacity="0.5"/>
<circle cx="67.6" cy="287.7" r="1.05" fill="#7b979f" opacity="0.5"/>
<circle cx="67.1" cy="289.8" r="1.05" fill="#7b979f" opacity="0.5"/>
<circle cx="60.7" cy="290.0" r="1.05" fill="#7b979f" opacity="0.5"/>
<circle cx="74.6" cy="292.6" r="1.05" fill="#7b979f" opacity="0.5"/>
<circle cx="47.7" cy="289.8" r="1.05" fill="#7b979f" opacity="0.5"/>
<circle cx="75.2" cy="287.4" r="1.05" fill="#7b979f" opacity="0.5"/>
<circle cx="59.3" cy="289.7" r="1.05" fill="#7b979f" opacity="0.5"/>
<circle cx="50.7" cy="292.9" r="1.05" fill="#7b979f" opacity="0.5"/>
<circle cx="51.2" cy="290.7" r="1.05" fill="#7b979f" opacity="0.5"/>
<circle cx="55.0" cy="293.1" r="1.05" fill="#7b979f" opacity="0.5"/>
<circle cx="67.7" cy="286.1" r="1.05" fill="#7b979f" opacity="0.5"/>
<circle cx="54.4" cy="289.9" r="1.05" fill="#7b979f" opacity="0.5"/>
<circle cx="58.3" cy="288.9" r="1.05" fill="#7b979f" opacity="0.5"/>
<circle cx="64.1" cy="292.4" r="1.05" fill="#7b979f" opacity="0.5"/>
<circle cx="51.8" cy="295.0" r="1.05" fill="#7b979f" opacity="0.5"/>
<circle cx="60.6" cy="291.8" r="1.05" fill="#7b979f" opacity="0.5"/>
<circle cx="50.3" cy="292.2" r="1.05" fill="#7b979f" opacity="0.5"/>
<circle cx="55.3" cy="289.4" r="1.05" fill="#7b979f" opacity="0.5"/>
<circle cx="49.3" cy="288.3" r="1.05" fill="#7b979f" opacity="0.5"/>
<circle cx="60.6" cy="290.3" r="1.05" fill="#7b979f" opacity="0.5"/>
<circle cx="60.2" cy="288.9" r="1.05" fill="#7b979f" opacity="0.5"/>
<circle cx="72.0" cy="288.2" r="1.05" fill="#7b979f" opacity="0.5"/>
<circle cx="60.6" cy="289.5" r="1.05" fill="#7b979f" opacity="0.5"/>
<circle cx="73.2" cy="289.5" r="1.05" fill="#7b979f" opacity="0.5"/>
<circle cx="69.1" cy="285.7" r="1.05" fill="#7b979f" opacity="0.5"/>
<circle cx="60.2" cy="293.1" r="1.05" fill="#7b979f" opacity="0.5"/>
<circle cx="52.4" cy="289.8" r="1.05" fill="#7b979f" opacity="0.5"/>
<circle cx="67.1" cy="286.2" r="1.05" fill="#7b979f" opacity="0.5"/>
<circle cx="73.1" cy="291.5" r="1.05" fill="#7b979f" opacity="0.5"/>
<circle cx="50.9" cy="293.0" r="1.05" fill="#7b979f" opacity="0.5"/>
<circle cx="50.8" cy="290.0" r="1.05" fill="#7b979f" opacity="0.5"/>
<circle cx="73.3" cy="284.1" r="1.05" fill="#7b979f" opacity="0.5"/>
<circle cx="53.0" cy="288.9" r="1.05" fill="#7b979f" opacity="0.5"/>
<circle cx="55.0" cy="291.7" r="1.05" fill="#7b979f" opacity="0.5"/>
<circle cx="68.9" cy="294.0" r="1.05" fill="#7b979f" opacity="0.5"/>
<circle cx="47.6" cy="289.3" r="1.05" fill="#7b979f" opacity="0.5"/>
<circle cx="54.3" cy="292.2" r="1.05" fill="#7b979f" opacity="0.5"/>
<circle cx="63.9" cy="289.1" r="1.05" fill="#7b979f" opacity="0.5"/>
<circle cx="44.7" cy="292.5" r="1.05" fill="#7b979f" opacity="0.5"/>
<circle cx="59.1" cy="291.2" r="1.05" fill="#7b979f" opacity="0.5"/>
<circle cx="51.5" cy="290.7" r="1.05" fill="#7b979f" opacity="0.5"/>
<circle cx="76.5" cy="288.1" r="1.05" fill="#7b979f" opacity="0.5"/>
<circle cx="62.7" cy="293.9" r="1.05" fill="#7b979f" opacity="0.5"/>
<circle cx="53.7" cy="290.1" r="1.05" fill="#7b979f" opacity="0.5"/>
<circle cx="48.3" cy="288.9" r="1.05" fill="#7b979f" opacity="0.5"/>
<circle cx="74.9" cy="293.3" r="1.05" fill="#7b979f" opacity="0.5"/>
<circle cx="76.0" cy="288.6" r="1.05" fill="#7b979f" opacity="0.5"/>
<circle cx="70.4" cy="287.0" r="1.05" fill="#7b979f" opacity="0.5"/>
<circle cx="54.4" cy="290.1" r="1.05" fill="#7b979f" opacity="0.5"/>
<circle cx="66.4" cy="287.6" r="1.05" fill="#7b979f" opacity="0.5"/>
<circle cx="53.4" cy="289.6" r="1.05" fill="#7b979f" opacity="0.5"/>
<circle cx="76.7" cy="283.9" r="1.05" fill="#7b979f" opacity="0.5"/>
<circle cx="62.5" cy="294.0" r="1.05" fill="#7b979f" opacity="0.5"/>
<circle cx="61.0" cy="292.0" r="1.05" fill="#7b979f" opacity="0.5"/>
<circle cx="68.6" cy="288.1" r="1.05" fill="#7b979f" opacity="0.5"/>
<circle cx="63.5" cy="293.2" r="1.05" fill="#7b979f" opacity="0.5"/>
<circle cx="66.1" cy="289.0" r="1.05" fill="#7b979f" opacity="0.5"/>
<circle cx="50.5" cy="288.8" r="1.05" fill="#7b979f" opacity="0.5"/>
<circle cx="66.5" cy="293.7" r="1.05" fill="#7b979f" opacity="0.5"/>
<circle cx="75.7" cy="292.4" r="1.05" fill="#7b979f" opacity="0.5"/>
<circle cx="55.6" cy="289.7" r="1.05" fill="#7b979f" opacity="0.5"/>
<circle cx="64.5" cy="289.9" r="1.05" fill="#7b979f" opacity="0.5"/>
<circle cx="66.2" cy="290.5" r="1.05" fill="#7b979f" opacity="0.5"/>
<circle cx="55.0" cy="293.6" r="1.05" fill="#7b979f" opacity="0.5"/>
<circle cx="46.8" cy="290.0" r="1.05" fill="#7b979f" opacity="0.5"/>
<circle cx="69.8" cy="289.1" r="1.05" fill="#7b979f" opacity="0.5"/>
<circle cx="69.3" cy="290.9" r="1.05" fill="#7b979f" opacity="0.5"/>
<circle cx="53.4" cy="292.0" r="1.05" fill="#7b979f" opacity="0.5"/>
<circle cx="73.7" cy="294.4" r="1.05" fill="#7b979f" opacity="0.5"/>
<circle cx="61.4" cy="292.8" r="1.05" fill="#7b979f" opacity="0.5"/>
<circle cx="70.3" cy="290.8" r="1.05" fill="#7b979f" opacity="0.5"/>
<circle cx="55.7" cy="291.8" r="1.05" fill="#7b979f" opacity="0.5"/>
<circle cx="62.6" cy="288.7" r="1.05" fill="#7b979f" opacity="0.5"/>
<circle cx="56.3" cy="288.9" r="1.05" fill="#7b979f" opacity="0.5"/>
<circle cx="48.3" cy="292.9" r="1.05" fill="#7b979f" opacity="0.5"/>
<circle cx="47.8" cy="294.2" r="1.05" fill="#7b979f" opacity="0.5"/>
<circle cx="70.6" cy="287.1" r="1.05" fill="#7b979f" opacity="0.5"/>
<circle cx="50.7" cy="293.5" r="1.05" fill="#7b979f" opacity="0.5"/>
<circle cx="58.5" cy="289.5" r="1.05" fill="#7b979f" opacity="0.5"/>
<circle cx="71.8" cy="286.4" r="1.05" fill="#7b979f" opacity="0.5"/>
<circle cx="64.3" cy="293.5" r="1.05" fill="#7b979f" opacity="0.5"/>
<circle cx="57.8" cy="293.4" r="1.05" fill="#7b979f" opacity="0.5"/>
<circle cx="62.2" cy="290.2" r="1.05" fill="#7b979f" opacity="0.5"/>
<circle cx="51.3" cy="293.0" r="1.05" fill="#7b979f" opacity="0.5"/>
<circle cx="70.7" cy="294.8" r="1.05" fill="#7b979f" opacity="0.5"/>
<circle cx="71.4" cy="285.2" r="1.05" fill="#7b979f" opacity="0.5"/>
<circle cx="76.3" cy="288.3" r="1.05" fill="#7b979f" opacity="0.5"/>
<circle cx="63.0" cy="290.0" r="1.05" fill="#7b979f" opacity="0.5"/>
<circle cx="65.7" cy="286.5" r="1.05" fill="#7b979f" opacity="0.5"/>
<circle cx="67.5" cy="291.7" r="1.05" fill="#7b979f" opacity="0.5"/>
<circle cx="73.3" cy="288.5" r="1.05" fill="#7b979f" opacity="0.5"/>
<circle cx="64.6" cy="288.6" r="1.05" fill="#7b979f" opacity="0.5"/>
<circle cx="44.6" cy="289.7" r="1.05" fill="#7b979f" opacity="0.5"/>
<circle cx="66.7" cy="290.1" r="1.05" fill="#7b979f" opacity="0.5"/>
<circle cx="62.0" cy="291.1" r="1.05" fill="#7b979f" opacity="0.5"/>
<circle cx="51.0" cy="291.1" r="1.05" fill="#7b979f" opacity="0.5"/>
<circle cx="45.7" cy="291.3" r="1.05" fill="#7b979f" opacity="0.5"/>
<circle cx="66.1" cy="290.6" r="1.05" fill="#7b979f" opacity="0.5"/>
<circle cx="63.5" cy="287.2" r="1.05" fill="#7b979f" opacity="0.5"/>
<circle cx="74.4" cy="292.8" r="1.05" fill="#7b979f" opacity="0.5"/>
<circle cx="71.0" cy="287.9" r="1.05" fill="#7b979f" opacity="0.5"/>
<circle cx="46.2" cy="292.3" r="1.05" fill="#7b979f" opacity="0.5"/>
<circle cx="52.3" cy="294.5" r="1.05" fill="#7b979f" opacity="0.5"/>
<circle cx="62.6" cy="287.6" r="1.05" fill="#7b979f" opacity="0.5"/>
<circle cx="55.3" cy="288.8" r="1.05" fill="#7b979f" opacity="0.5"/>
<circle cx="67.8" cy="293.5" r="1.05" fill="#7b979f" opacity="0.5"/>
<circle cx="73.3" cy="287.2" r="1.05" fill="#7b979f" opacity="0.5"/>
<circle cx="75.6" cy="284.6" r="1.05" fill="#7b979f" opacity="0.5"/>
<circle cx="69.3" cy="291.1" r="1.05" fill="#7b979f" opacity="0.5"/>
<circle cx="71.5" cy="284.8" r="1.05" fill="#7b979f" opacity="0.5"/>
<circle cx="73.4" cy="289.0" r="1.05" fill="#7b979f" opacity="0.5"/>
<circle cx="69.9" cy="289.6" r="1.05" fill="#7b979f" opacity="0.5"/>
<circle cx="48.2" cy="294.8" r="1.05" fill="#7b979f" opacity="0.5"/>
<circle cx="47.1" cy="293.4" r="1.05" fill="#7b979f" opacity="0.5"/>
<circle cx="49.9" cy="291.3" r="1.05" fill="#7b979f" opacity="0.5"/>
<circle cx="67.9" cy="289.5" r="1.05" fill="#7b979f" opacity="0.5"/>
<circle cx="58.6" cy="290.1" r="1.05" fill="#7b979f" opacity="0.5"/>
<circle cx="54.7" cy="291.4" r="1.05" fill="#7b979f" opacity="0.5"/>
<circle cx="69.9" cy="290.5" r="1.05" fill="#7b979f" opacity="0.5"/>
<circle cx="50.5" cy="288.8" r="1.05" fill="#7b979f" opacity="0.5"/>
<circle cx="68.6" cy="291.0" r="1.05" fill="#7b979f" opacity="0.5"/>
<circle cx="56.9" cy="291.0" r="1.05" fill="#7b979f" opacity="0.5"/>
<circle cx="64.5" cy="292.8" r="1.05" fill="#7b979f" opacity="0.5"/>
<circle cx="44.6" cy="293.4" r="1.05" fill="#7b979f" opacity="0.5"/>
<circle cx="70.7" cy="293.1" r="1.05" fill="#7b979f" opacity="0.5"/>
<circle cx="59.9" cy="293.4" r="1.05" fill="#7b979f" opacity="0.5"/>
<circle cx="51.5" cy="293.6" r="1.05" fill="#7b979f" opacity="0.5"/>
<circle cx="58.0" cy="293.6" r="1.05" fill="#7b979f" opacity="0.5"/>
<circle cx="45.4" cy="294.2" r="1.05" fill="#7b979f" opacity="0.5"/>
<circle cx="50.1" cy="291.3" r="1.05" fill="#7b979f" opacity="0.5"/>
<circle cx="46.5" cy="295.1" r="1.05" fill="#7b979f" opacity="0.5"/>
<circle cx="59.5" cy="291.8" r="1.05" fill="#7b979f" opacity="0.5"/>
<circle cx="68.1" cy="294.5" r="1.05" fill="#7b979f" opacity="0.5"/>
<circle cx="58.0" cy="291.9" r="1.05" fill="#7b979f" opacity="0.5"/>
<circle cx="45.4" cy="288.6" r="1.05" fill="#7b979f" opacity="0.5"/>
<circle cx="51.8" cy="294.3" r="1.05" fill="#7b979f" opacity="0.5"/>
<circle cx="60.4" cy="293.6" r="1.05" fill="#7b979f" opacity="0.5"/>
<circle cx="65.4" cy="291.5" r="1.05" fill="#7b979f" opacity="0.5"/>
<circle cx="48.7" cy="294.7" r="1.05" fill="#7b979f" opacity="0.5"/>
<circle cx="68.9" cy="291.8" r="1.05" fill="#7b979f" opacity="0.5"/>
<circle cx="70.9" cy="289.5" r="1.05" fill="#7b979f" opacity="0.5"/>
<circle cx="75.8" cy="289.9" r="1.05" fill="#7b979f" opacity="0.5"/>
<circle cx="52.9" cy="292.9" r="1.05" fill="#7b979f" opacity="0.5"/>
<circle cx="71.8" cy="287.5" r="1.05" fill="#7b979f" opacity="0.5"/>
<circle cx="56.0" cy="294.3" r="1.05" fill="#7b979f" opacity="0.5"/>
<circle cx="67.4" cy="286.1" r="1.05" fill="#7b979f" opacity="0.5"/>
<circle cx="64.3" cy="295.3" r="1.05" fill="#7b979f" opacity="0.5"/>
<circle cx="45.5" cy="294.4" r="1.05" fill="#7b979f" opacity="0.5"/>
<circle cx="50.2" cy="294.9" r="1.05" fill="#7b979f" opacity="0.5"/>
<circle cx="46.3" cy="290.4" r="1.05" fill="#7b979f" opacity="0.5"/>
<circle cx="74.7" cy="291.8" r="1.05" fill="#7b979f" opacity="0.5"/>
<circle cx="77.1" cy="286.3" r="1.05" fill="#7b979f" opacity="0.5"/>
<circle cx="71.4" cy="285.0" r="1.05" fill="#7b979f" opacity="0.5"/>
<circle cx="76.0" cy="294.4" r="1.05" fill="#7b979f" opacity="0.5"/>
<circle cx="54.7" cy="290.5" r="1.05" fill="#7b979f" opacity="0.5"/>
<circle cx="76.2" cy="293.2" r="1.05" fill="#7b979f" opacity="0.5"/>
<circle cx="54.3" cy="289.0" r="1.05" fill="#7b979f" opacity="0.5"/>
<circle cx="48.3" cy="292.0" r="1.05" fill="#7b979f" opacity="0.5"/>
<circle cx="55.7" cy="290.0" r="1.05" fill="#7b979f" opacity="0.5"/>
<circle cx="75.6" cy="291.9" r="1.05" fill="#7b979f" opacity="0.5"/>
<circle cx="69.3" cy="287.5" r="1.05" fill="#7b979f" opacity="0.5"/>
<circle cx="72.5" cy="288.1" r="1.05" fill="#7b979f" opacity="0.5"/>
<circle cx="75.4" cy="289.2" r="1.05" fill="#7b979f" opacity="0.5"/>
<circle cx="58.4" cy="293.1" r="1.05" fill="#7b979f" opacity="0.5"/>
<circle cx="70.6" cy="289.5" r="1.05" fill="#7b979f" opacity="0.5"/>
<circle cx="53.5" cy="293.6" r="1.05" fill="#7b979f" opacity="0.5"/>
<circle cx="68.6" cy="288.8" r="1.05" fill="#7b979f" opacity="0.5"/>
<circle cx="68.3" cy="290.8" r="1.05" fill="#7b979f" opacity="0.5"/>
<circle cx="60.8" cy="293.7" r="1.05" fill="#7b979f" opacity="0.5"/>
<circle cx="68.3" cy="294.9" r="1.05" fill="#7b979f" opacity="0.5"/>
<circle cx="60.1" cy="289.4" r="1.05" fill="#7b979f" opacity="0.5"/>
<circle cx="67.2" cy="293.9" r="1.05" fill="#7b979f" opacity="0.5"/>
<circle cx="52.4" cy="289.1" r="1.05" fill="#7b979f" opacity="0.5"/>
<circle cx="66.0" cy="287.1" r="1.05" fill="#7b979f" opacity="0.5"/>
<circle cx="73.7" cy="288.8" r="1.05" fill="#7b979f" opacity="0.5"/>
<circle cx="74.5" cy="285.2" r="1.05" fill="#7b979f" opacity="0.5"/>
<circle cx="55.7" cy="292.1" r="1.05" fill="#7b979f" opacity="0.5"/>
<circle cx="46.9" cy="292.0" r="1.05" fill="#7b979f" opacity="0.5"/>
<circle cx="76.5" cy="292.8" r="1.05" fill="#7b979f" opacity="0.5"/>
<circle cx="63.6" cy="293.9" r="1.05" fill="#7b979f" opacity="0.5"/>
<circle cx="47.2" cy="290.4" r="1.05" fill="#7b979f" opacity="0.5"/>
<circle cx="52.6" cy="294.8" r="1.05" fill="#7b979f" opacity="0.5"/>
<circle cx="49.6" cy="290.4" r="1.05" fill="#7b979f" opacity="0.5"/>
<circle cx="64.1" cy="295.2" r="1.05" fill="#7b979f" opacity="0.5"/>
<circle cx="52.2" cy="288.3" r="1.05" fill="#7b979f" opacity="0.5"/>
<circle cx="51.9" cy="290.8" r="1.05" fill="#7b979f" opacity="0.5"/>
<circle cx="58.6" cy="289.3" r="1.05" fill="#7b979f" opacity="0.5"/>
<circle cx="64.7" cy="288.1" r="1.05" fill="#7b979f" opacity="0.5"/>
<circle cx="62.4" cy="293.3" r="1.05" fill="#7b979f" opacity="0.5"/>
<circle cx="50.4" cy="294.5" r="1.05" fill="#7b979f" opacity="0.5"/>
<circle cx="72.2" cy="293.4" r="1.05" fill="#7b979f" opacity="0.5"/>
<circle cx="45.3" cy="288.6" r="1.05" fill="#7b979f" opacity="0.5"/>
<circle cx="51.2" cy="288.8" r="1.05" fill="#7b979f" opacity="0.5"/>
<circle cx="47.4" cy="291.5" r="1.05" fill="#7b979f" opacity="0.5"/>
<circle cx="52.0" cy="289.2" r="1.05" fill="#7b979f" opacity="0.5"/>
<circle cx="65.1" cy="289.1" r="1.05" fill="#7b979f" opacity="0.5"/>
<circle cx="70.0" cy="286.2" r="1.05" fill="#7b979f" opacity="0.5"/>
<circle cx="56.1" cy="290.5" r="1.05" fill="#7b979f" opacity="0.5"/>
<circle cx="59.4" cy="294.1" r="1.05" fill="#7b979f" opacity="0.5"/>
<circle cx="72.5" cy="287.6" r="1.05" fill="#7b979f" opacity="0.5"/>
<circle cx="71.8" cy="292.2" r="1.05" fill="#7b979f" opacity="0.5"/>
<circle cx="62.6" cy="291.0" r="1.05" fill="#7b979f" opacity="0.5"/>
<circle cx="68.9" cy="294.1" r="1.05" fill="#7b979f" opacity="0.5"/>
<circle cx="56.1" cy="291.3" r="1.05" fill="#7b979f" opacity="0.5"/>
<circle cx="46.9" cy="291.0" r="1.05" fill="#7b979f" opacity="0.5"/>
<circle cx="69.1" cy="290.3" r="1.05" fill="#7b979f" opacity="0.5"/>
<circle cx="66.2" cy="289.2" r="1.05" fill="#7b979f" opacity="0.5"/>
<circle cx="51.7" cy="292.3" r="1.05" fill="#7b979f" opacity="0.5"/>
<circle cx="77.9" cy="288.1" r="1.05" fill="#7b979f" opacity="0.5"/>
<circle cx="58.9" cy="294.4" r="1.05" fill="#7b979f" opacity="0.5"/>
<circle cx="51.8" cy="293.7" r="1.05" fill="#7b979f" opacity="0.5"/>
<circle cx="75.7" cy="284.3" r="1.05" fill="#7b979f" opacity="0.5"/>
<circle cx="73.8" cy="283.0" r="1.05" fill="#7b979f" opacity="0.5"/>
<circle cx="65.0" cy="287.0" r="1.05" fill="#7b979f" opacity="0.5"/>
<circle cx="62.4" cy="291.3" r="1.05" fill="#7b979f" opacity="0.5"/>
<circle cx="76.3" cy="281.4" r="1.05" fill="#7b979f" opacity="0.5"/>
<circle cx="76.3" cy="286.9" r="1.05" fill="#7b979f" opacity="0.5"/>
<circle cx="70.4" cy="290.3" r="1.05" fill="#7b979f" opacity="0.5"/>
<circle cx="77.9" cy="278.9" r="1.05" fill="#7b979f" opacity="0.5"/>
<circle cx="54.3" cy="288.5" r="1.05" fill="#7b979f" opacity="0.5"/>
<circle cx="50.7" cy="294.3" r="1.05" fill="#7b979f" opacity="0.5"/>
<circle cx="68.7" cy="291.7" r="1.05" fill="#7b979f" opacity="0.5"/>
<circle cx="61.9" cy="289.8" r="1.05" fill="#7b979f" opacity="0.5"/>
<circle cx="45.9" cy="289.8" r="1.05" fill="#7b979f" opacity="0.5"/>
<circle cx="53.7" cy="291.7" r="1.05" fill="#7b979f" opacity="0.5"/>
<circle cx="56.1" cy="289.6" r="1.05" fill="#7b979f" opacity="0.5"/>
<circle cx="69.5" cy="291.7" r="1.05" fill="#7b979f" opacity="0.5"/>
<circle cx="48.0" cy="292.7" r="1.05" fill="#7b979f" opacity="0.5"/>
<circle cx="58.3" cy="294.4" r="1.05" fill="#7b979f" opacity="0.5"/>
<circle cx="49.6" cy="289.6" r="1.05" fill="#7b979f" opacity="0.5"/>
<circle cx="68.0" cy="285.9" r="1.05" fill="#7b979f" opacity="0.5"/>
<circle cx="77.3" cy="280.3" r="1.05" fill="#7b979f" opacity="0.5"/>
<circle cx="57.0" cy="293.7" r="1.05" fill="#7b979f" opacity="0.5"/>
<circle cx="54.9" cy="291.4" r="1.05" fill="#7b979f" opacity="0.5"/>
<circle cx="62.1" cy="290.4" r="1.05" fill="#7b979f" opacity="0.5"/>
<circle cx="56.6" cy="288.9" r="1.05" fill="#7b979f" opacity="0.5"/>
<circle cx="54.1" cy="291.5" r="1.05" fill="#7b979f" opacity="0.5"/>
<circle cx="74.2" cy="284.6" r="1.05" fill="#7b979f" opacity="0.5"/>
<circle cx="54.5" cy="293.0" r="1.05" fill="#7b979f" opacity="0.5"/>
<circle cx="71.5" cy="295.1" r="1.05" fill="#7b979f" opacity="0.5"/>
<circle cx="48.9" cy="291.1" r="1.05" fill="#7b979f" opacity="0.5"/>
<circle cx="62.5" cy="293.5" r="1.05" fill="#7b979f" opacity="0.5"/>
<circle cx="46.2" cy="293.4" r="1.05" fill="#7b979f" opacity="0.5"/>
<circle cx="70.3" cy="289.7" r="1.05" fill="#7b979f" opacity="0.5"/>
<circle cx="77.3" cy="281.6" r="1.05" fill="#7b979f" opacity="0.5"/>
<circle cx="77.3" cy="294.3" r="1.05" fill="#7b979f" opacity="0.5"/>
<circle cx="50.7" cy="295.2" r="1.05" fill="#7b979f" opacity="0.5"/>
<circle cx="59.0" cy="292.3" r="1.05" fill="#7b979f" opacity="0.5"/>
<circle cx="46.2" cy="291.0" r="1.05" fill="#7b979f" opacity="0.5"/>
<circle cx="47.6" cy="292.6" r="1.05" fill="#7b979f" opacity="0.5"/>
<circle cx="52.8" cy="289.3" r="1.05" fill="#7b979f" opacity="0.5"/>
<circle cx="58.5" cy="292.9" r="1.05" fill="#7b979f" opacity="0.5"/>
<circle cx="46.0" cy="291.8" r="1.05" fill="#7b979f" opacity="0.5"/>
<circle cx="65.5" cy="288.8" r="1.05" fill="#7b979f" opacity="0.5"/>
<circle cx="75.1" cy="284.1" r="1.05" fill="#7b979f" opacity="0.5"/>
<circle cx="52.8" cy="293.9" r="1.05" fill="#7b979f" opacity="0.5"/>
<circle cx="69.9" cy="286.9" r="1.05" fill="#7b979f" opacity="0.5"/>
<circle cx="61.5" cy="288.6" r="1.05" fill="#7b979f" opacity="0.5"/>
<circle cx="63.0" cy="292.4" r="1.05" fill="#7b979f" opacity="0.5"/>
<circle cx="50.2" cy="295.1" r="1.05" fill="#7b979f" opacity="0.5"/>
<circle cx="66.0" cy="287.0" r="1.05" fill="#7b979f" opacity="0.5"/>
<circle cx="74.9" cy="288.2" r="1.05" fill="#7b979f" opacity="0.5"/>
<circle cx="66.8" cy="286.5" r="1.05" fill="#7b979f" opacity="0.5"/>
<circle cx="71.8" cy="287.8" r="1.05" fill="#7b979f" opacity="0.5"/>
<circle cx="58.4" cy="291.0" r="1.05" fill="#7b979f" opacity="0.5"/>
<circle cx="50.2" cy="293.6" r="1.05" fill="#7b979f" opacity="0.5"/>
<circle cx="67.4" cy="285.9" r="1.05" fill="#7b979f" opacity="0.5"/>
<circle cx="62.8" cy="291.4" r="1.05" fill="#7b979f" opacity="0.5"/>
<circle cx="56.3" cy="291.5" r="1.05" fill="#7b979f" opacity="0.5"/>
<circle cx="71.4" cy="289.5" r="1.05" fill="#7b979f" opacity="0.5"/>
<circle cx="76.6" cy="291.8" r="1.05" fill="#7b979f" opacity="0.5"/>
<circle cx="55.0" cy="291.0" r="1.05" fill="#7b979f" opacity="0.5"/>
<circle cx="58.3" cy="288.9" r="1.05" fill="#7b979f" opacity="0.5"/>
<circle cx="72.2" cy="284.4" r="1.05" fill="#7b979f" opacity="0.5"/>
<circle cx="65.0" cy="294.9" r="1.05" fill="#7b979f" opacity="0.5"/>
<circle cx="63.7" cy="290.1" r="1.05" fill="#7b979f" opacity="0.5"/>
<circle cx="60.8" cy="292.6" r="1.05" fill="#7b979f" opacity="0.5"/>
<circle cx="68.3" cy="286.3" r="1.05" fill="#7b979f" opacity="0.5"/>
<circle cx="47.9" cy="290.2" r="1.05" fill="#7b979f" opacity="0.5"/>
<circle cx="56.9" cy="291.1" r="1.05" fill="#7b979f" opacity="0.5"/>
<circle cx="74.5" cy="282.8" r="1.05" fill="#7b979f" opacity="0.5"/>
<circle cx="66.1" cy="292.9" r="1.05" fill="#7b979f" opacity="0.5"/>
<circle cx="75.3" cy="291.9" r="1.05" fill="#7b979f" opacity="0.5"/>
<circle cx="57.3" cy="289.0" r="1.05" fill="#7b979f" opacity="0.5"/>
<circle cx="55.1" cy="292.8" r="1.05" fill="#7b979f" opacity="0.5"/>
<circle cx="76.3" cy="280.8" r="1.05" fill="#7b979f" opacity="0.5"/>
<circle cx="55.1" cy="291.9" r="1.05" fill="#7b979f" opacity="0.5"/>
<circle cx="53.9" cy="294.0" r="1.05" fill="#7b979f" opacity="0.5"/>
<circle cx="52.9" cy="288.2" r="1.05" fill="#7b979f" opacity="0.5"/>
<circle cx="47.2" cy="293.2" r="1.05" fill="#7b979f" opacity="0.5"/>
<circle cx="51.2" cy="294.4" r="1.05" fill="#7b979f" opacity="0.5"/>
<circle cx="62.1" cy="289.0" r="1.05" fill="#7b979f" opacity="0.5"/>
<circle cx="72.6" cy="287.2" r="1.05" fill="#7b979f" opacity="0.5"/>
<circle cx="71.9" cy="295.2" r="1.05" fill="#7b979f" opacity="0.5"/>
<circle cx="54.0" cy="288.3" r="1.05" fill="#7b979f" opacity="0.5"/>
<circle cx="46.8" cy="292.9" r="1.05" fill="#7b979f" opacity="0.5"/>
<circle cx="60.7" cy="292.7" r="1.05" fill="#7b979f" opacity="0.5"/>
<circle cx="62.8" cy="294.7" r="1.05" fill="#7b979f" opacity="0.5"/>
<circle cx="52.4" cy="288.4" r="1.05" fill="#7b979f" opacity="0.5"/>
<circle cx="49.3" cy="288.8" r="1.05" fill="#7b979f" opacity="0.5"/>
<circle cx="50.5" cy="288.2" r="1.05" fill="#7b979f" opacity="0.5"/>
<circle cx="67.1" cy="288.7" r="1.05" fill="#7b979f" opacity="0.5"/>
<circle cx="49.3" cy="294.7" r="1.05" fill="#7b979f" opacity="0.5"/>
<circle cx="69.9" cy="292.8" r="1.05" fill="#7b979f" opacity="0.5"/>
<circle cx="50.9" cy="289.2" r="1.05" fill="#7b979f" opacity="0.5"/>
<circle cx="73.8" cy="294.3" r="1.05" fill="#7b979f" opacity="0.5"/>
<circle cx="76.7" cy="285.8" r="1.05" fill="#7b979f" opacity="0.5"/>
<circle cx="83.8" cy="283.9" r="1.0" fill="#9db6be" opacity="0.6"/>
<circle cx="83.9" cy="294.4" r="1.0" fill="#9db6be" opacity="0.6"/>
<circle cx="82.1" cy="283.8" r="1.0" fill="#9db6be" opacity="0.6"/>
<circle cx="79.9" cy="283.2" r="1.0" fill="#9db6be" opacity="0.6"/>
<circle cx="83.3" cy="293.5" r="1.0" fill="#9db6be" opacity="0.6"/>
<circle cx="78.8" cy="283.8" r="1.0" fill="#9db6be" opacity="0.6"/>
<circle cx="93.0" cy="294.5" r="1.0" fill="#9db6be" opacity="0.6"/>
<circle cx="93.7" cy="287.4" r="1.0" fill="#9db6be" opacity="0.6"/>
<circle cx="83.3" cy="293.9" r="1.0" fill="#9db6be" opacity="0.6"/>
<circle cx="85.5" cy="291.1" r="1.0" fill="#9db6be" opacity="0.6"/>
<circle cx="82.7" cy="282.6" r="1.0" fill="#9db6be" opacity="0.6"/>
<circle cx="83.2" cy="291.5" r="1.0" fill="#9db6be" opacity="0.6"/>
<circle cx="90.4" cy="290.1" r="1.0" fill="#9db6be" opacity="0.6"/>
<circle cx="85.2" cy="289.1" r="1.0" fill="#9db6be" opacity="0.6"/>
<circle cx="84.8" cy="289.1" r="1.0" fill="#9db6be" opacity="0.6"/>
<circle cx="91.2" cy="286.5" r="1.0" fill="#9db6be" opacity="0.6"/>
<circle cx="87.3" cy="293.8" r="1.0" fill="#9db6be" opacity="0.6"/>
<circle cx="91.5" cy="286.3" r="1.0" fill="#9db6be" opacity="0.6"/>
<circle cx="93.4" cy="293.0" r="1.0" fill="#9db6be" opacity="0.6"/>
<circle cx="80.3" cy="285.1" r="1.0" fill="#9db6be" opacity="0.6"/>
<circle cx="80.8" cy="282.5" r="1.0" fill="#9db6be" opacity="0.6"/>
<circle cx="93.6" cy="288.9" r="1.0" fill="#9db6be" opacity="0.6"/>
<circle cx="91.9" cy="285.7" r="1.0" fill="#9db6be" opacity="0.6"/>
<circle cx="77.7" cy="292.7" r="1.0" fill="#9db6be" opacity="0.6"/>
<circle cx="90.6" cy="294.4" r="1.0" fill="#9db6be" opacity="0.6"/>
<circle cx="88.8" cy="289.4" r="1.0" fill="#9db6be" opacity="0.6"/>
<circle cx="90.1" cy="285.1" r="1.0" fill="#9db6be" opacity="0.6"/>
<circle cx="86.4" cy="288.2" r="1.0" fill="#9db6be" opacity="0.6"/>
<circle cx="79.9" cy="289.3" r="1.0" fill="#9db6be" opacity="0.6"/>
<circle cx="82.8" cy="288.5" r="1.0" fill="#9db6be" opacity="0.6"/>
<circle cx="83.7" cy="286.3" r="1.0" fill="#9db6be" opacity="0.6"/>
<circle cx="83.4" cy="289.7" r="1.0" fill="#9db6be" opacity="0.6"/>
<circle cx="93.7" cy="293.9" r="1.0" fill="#9db6be" opacity="0.6"/>
<circle cx="91.7" cy="292.9" r="1.0" fill="#9db6be" opacity="0.6"/>
<circle cx="82.2" cy="294.2" r="1.0" fill="#9db6be" opacity="0.6"/>
<circle cx="82.0" cy="283.6" r="1.0" fill="#9db6be" opacity="0.6"/>
<circle cx="85.8" cy="291.4" r="1.0" fill="#9db6be" opacity="0.6"/>
<circle cx="83.1" cy="290.2" r="1.0" fill="#9db6be" opacity="0.6"/>
<circle cx="82.2" cy="294.1" r="1.0" fill="#9db6be" opacity="0.6"/>
<circle cx="85.0" cy="288.4" r="1.0" fill="#9db6be" opacity="0.6"/>
<circle cx="86.3" cy="293.1" r="1.0" fill="#9db6be" opacity="0.6"/>
<circle cx="93.8" cy="290.1" r="1.0" fill="#9db6be" opacity="0.6"/>
<circle cx="84.8" cy="290.0" r="1.0" fill="#9db6be" opacity="0.6"/>
<circle cx="78.6" cy="286.9" r="1.0" fill="#9db6be" opacity="0.6"/>
<circle cx="91.5" cy="292.3" r="1.0" fill="#9db6be" opacity="0.6"/>
<circle cx="38.7" cy="287.7" r="1.1" fill="#7b979f" opacity="0.85"/>
<circle cx="46.1" cy="283.3" r="1.1" fill="#7b979f" opacity="0.85"/>
<circle cx="48.1" cy="279.2" r="1.1" fill="#7b979f" opacity="0.85"/>
<circle cx="52.2" cy="283.9" r="1.1" fill="#7b979f" opacity="0.85"/>
<circle cx="56.4" cy="279.7" r="1.1" fill="#7b979f" opacity="0.85"/>
<circle cx="60.9" cy="285.3" r="1.1" fill="#7b979f" opacity="0.85"/>
<circle cx="69.0" cy="279.4" r="1.1" fill="#7b979f" opacity="0.85"/>
<circle cx="64.6" cy="284.5" r="1.1" fill="#7b979f" opacity="0.85"/>
<circle cx="88.5" cy="259.0" r="1.1" fill="#7b979f" opacity="0.85"/>
<circle cx="95.9" cy="272.0" r="1.1" fill="#7b979f" opacity="0.85"/>
<circle cx="101.3" cy="257.7" r="1.1" fill="#7b979f" opacity="0.85"/>
<circle cx="102.1" cy="274.9" r="1.1" fill="#7b979f" opacity="0.85"/>
<circle cx="99.2" cy="278.3" r="1.1" fill="#7b979f" opacity="0.85"/>
<circle cx="95.4" cy="282.1" r="1.1" fill="#7b979f" opacity="0.85"/>
<circle cx="86.7" cy="280.7" r="1.1" fill="#7b979f" opacity="0.85"/>
<circle cx="88.2" cy="282.1" r="1.1" fill="#7b979f" opacity="0.85"/>
<circle cx="91.5" cy="285.0" r="1.1" fill="#7b979f" opacity="0.85"/>
<circle cx="129.8" cy="205.3" r="1.1" fill="#7b979f" opacity="0.85"/>
<circle cx="101.4" cy="231.0" r="1.1" fill="#7b979f" opacity="0.85"/>
<circle cx="120.5" cy="257.2" r="1.1" fill="#7b979f" opacity="0.85"/>
<circle cx="120.5" cy="265.4" r="1.1" fill="#7b979f" opacity="0.85"/>
<circle cx="119.2" cy="270.3" r="1.1" fill="#7b979f" opacity="0.85"/>
<circle cx="143.2" cy="266.9" r="1.1" fill="#7b979f" opacity="0.85"/>
<circle cx="157.4" cy="264.1" r="1.1" fill="#7b979f" opacity="0.85"/>
<circle cx="90.1" cy="277.7" r="1.1" fill="#7b979f" opacity="0.85"/>
<circle cx="84.9" cy="273.4" r="1.1" fill="#7b979f" opacity="0.85"/>
<line x1="33.50" y1="293.10" x2="162.00" y2="293.10" stroke="#333" stroke-width="0.8" stroke-dasharray="1.8,1.8" stroke-opacity="0.8"/>
<circle cx="110.3" cy="199.9" r="1.15" fill="#b0606c" opacity="0.9"/>
<circle cx="78.6" cy="275.9" r="1.15" fill="#b0606c" opacity="0.9"/>
<circle cx="81.0" cy="277.3" r="1.15" fill="#b0606c" opacity="0.9"/>
<circle cx="82.9" cy="276.3" r="1.15" fill="#b0606c" opacity="0.9"/>
<circle cx="84.3" cy="274.4" r="1.15" fill="#b0606c" opacity="0.9"/>
<circle cx="85.6" cy="271.0" r="1.15" fill="#b0606c" opacity="0.9"/>
<circle cx="86.0" cy="270.1" r="1.15" fill="#b0606c" opacity="0.9"/>
<circle cx="81.0" cy="284.0" r="1.15" fill="#b0606c" opacity="0.9"/>
<circle cx="81.9" cy="285.0" r="1.15" fill="#b0606c" opacity="0.9"/>
<rect x="89.80" y="203.00" width="26.70" height="5.90" rx="0.8" fill="#fff" fill-opacity="0.85" stroke="#eb9498" stroke-width="0.55"/>
<text x="103.15" y="207.50" font-size="5.60" text-anchor="middle" fill="#d2404a" stroke="#d2404a" stroke-width="0.08" textLength="23.50" lengthAdjust="spacingAndGlyphs">TSC22D3</text>
<rect x="84.00" y="261.60" width="18.50" height="6.40" rx="0.8" fill="#fff" fill-opacity="0.85" stroke="#eb9498" stroke-width="0.55"/>
<text x="93.25" y="266.60" font-size="5.60" text-anchor="middle" fill="#d2404a" stroke="#d2404a" stroke-width="0.08" textLength="15.30" lengthAdjust="spacingAndGlyphs">DDIT4</text>
<rect x="61.40" y="268.10" width="18.30" height="6.10" rx="0.8" fill="#fff" fill-opacity="0.85" stroke="#eb9498" stroke-width="0.55"/>
<text x="70.55" y="272.80" font-size="5.60" text-anchor="middle" fill="#d2404a" stroke="#d2404a" stroke-width="0.08" textLength="15.10" lengthAdjust="spacingAndGlyphs">FKBP5</text>
<rect x="81.10" y="287.00" width="16.10" height="6.20" rx="0.8" fill="#fff" fill-opacity="0.85" stroke="#eb9498" stroke-width="0.55"/>
<text x="89.15" y="291.80" font-size="5.60" text-anchor="middle" fill="#d2404a" stroke="#d2404a" stroke-width="0.08" textLength="12.90" lengthAdjust="spacingAndGlyphs">KLF9</text>
<rect x="272.00" y="183.00" width="197.60" height="86.90" fill="none" stroke="#231f20" stroke-width="1.2"/>
<line x1="269.30" y1="198.80" x2="272.00" y2="198.80" stroke="#231f20" stroke-width="0.8"/>
<line x1="269.30" y1="226.20" x2="272.00" y2="226.20" stroke="#231f20" stroke-width="0.8"/>
<line x1="269.30" y1="253.60" x2="272.00" y2="253.60" stroke="#231f20" stroke-width="0.8"/>
<text x="265.60" y="197.50" font-size="7.20" text-anchor="end" stroke="#231f20" stroke-width="0.1" textLength="64.80" lengthAdjust="spacingAndGlyphs">GOBP RESPONSE TO</text>
<text x="265.60" y="205.00" font-size="7.20" text-anchor="end" stroke="#231f20" stroke-width="0.1" textLength="63.20" lengthAdjust="spacingAndGlyphs">STEROID HORMONE</text>
<text x="265.60" y="224.60" font-size="7.20" text-anchor="end" stroke="#231f20" stroke-width="0.1" textLength="64.80" lengthAdjust="spacingAndGlyphs">GOBP RESPONSE TO</text>
<text x="265.60" y="232.50" font-size="7.20" text-anchor="end" stroke="#231f20" stroke-width="0.1" textLength="56.70" lengthAdjust="spacingAndGlyphs">CORTICOSTEROID</text>
<text x="265.60" y="248.10" font-size="7.20" text-anchor="end" stroke="#231f20" stroke-width="0.1" textLength="86.90" lengthAdjust="spacingAndGlyphs">GOBP CELLULAR RESPONSE</text>
<text x="265.60" y="256.00" font-size="7.20" text-anchor="end" stroke="#231f20" stroke-width="0.1" textLength="67.50" lengthAdjust="spacingAndGlyphs">TO CORTICOSTEROID</text>
<text x="265.60" y="263.80" font-size="7.20" text-anchor="end" stroke="#231f20" stroke-width="0.1" textLength="30.30" lengthAdjust="spacingAndGlyphs">STIMULUS</text>
<line x1="275.20" y1="269.90" x2="275.20" y2="272.30" stroke="#231f20" stroke-width="0.8"/>
<text transform="translate(276.10,277.00) rotate(-90)" font-size="6.20" text-anchor="end" stroke="#231f20" stroke-width="0.06" textLength="18.77" lengthAdjust="spacingAndGlyphs">DDIT4</text>
<line x1="280.99" y1="269.90" x2="280.99" y2="272.30" stroke="#231f20" stroke-width="0.8"/>
<text transform="translate(281.88,277.00) rotate(-90)" font-size="6.20" text-anchor="end" stroke="#231f20" stroke-width="0.06" textLength="12.64" lengthAdjust="spacingAndGlyphs">IL10</text>
<line x1="286.77" y1="269.90" x2="286.77" y2="272.30" stroke="#231f20" stroke-width="0.8"/>
<text transform="translate(287.67,277.00) rotate(-90)" font-size="6.20" text-anchor="end" stroke="#231f20" stroke-width="0.06" textLength="15.53" lengthAdjust="spacingAndGlyphs">KLF9</text>
<line x1="292.56" y1="269.90" x2="292.56" y2="272.30" stroke="#231f20" stroke-width="0.8"/>
<text transform="translate(293.45,277.00) rotate(-90)" font-size="6.20" text-anchor="end" stroke="#231f20" stroke-width="0.06" textLength="21.30" lengthAdjust="spacingAndGlyphs">CFLAR</text>
<line x1="298.34" y1="269.90" x2="298.34" y2="272.30" stroke="#231f20" stroke-width="0.8"/>
<text transform="translate(299.24,277.00) rotate(-90)" font-size="6.20" text-anchor="end" stroke="#231f20" stroke-width="0.06" textLength="16.61" lengthAdjust="spacingAndGlyphs">ASS1</text>
<line x1="304.12" y1="269.90" x2="304.12" y2="272.30" stroke="#231f20" stroke-width="0.8"/>
<text transform="translate(305.02,277.00) rotate(-90)" font-size="6.20" text-anchor="end" stroke="#231f20" stroke-width="0.06" textLength="26.60" lengthAdjust="spacingAndGlyphs">BCL2L11</text>
<line x1="309.91" y1="269.90" x2="309.91" y2="272.30" stroke="#231f20" stroke-width="0.8"/>
<text transform="translate(310.81,277.00) rotate(-90)" font-size="6.20" text-anchor="end" stroke="#231f20" stroke-width="0.06" textLength="26.72" lengthAdjust="spacingAndGlyphs">ZFP36L2</text>
<line x1="315.69" y1="269.90" x2="315.69" y2="272.30" stroke="#231f20" stroke-width="0.8"/>
<text transform="translate(316.59,277.00) rotate(-90)" font-size="6.20" text-anchor="end" stroke="#231f20" stroke-width="0.06" textLength="9.03" lengthAdjust="spacingAndGlyphs">IL6</text>
<line x1="321.48" y1="269.90" x2="321.48" y2="272.30" stroke="#231f20" stroke-width="0.8"/>
<text transform="translate(322.38,277.00) rotate(-90)" font-size="6.20" text-anchor="end" stroke="#231f20" stroke-width="0.06" textLength="17.69" lengthAdjust="spacingAndGlyphs">CYBB</text>
<line x1="327.26" y1="269.90" x2="327.26" y2="272.30" stroke="#231f20" stroke-width="0.8"/>
<text transform="translate(328.16,277.00) rotate(-90)" font-size="6.20" text-anchor="end" stroke="#231f20" stroke-width="0.06" textLength="20.81" lengthAdjust="spacingAndGlyphs">PTAFR</text>
<line x1="333.05" y1="269.90" x2="333.05" y2="272.30" stroke="#231f20" stroke-width="0.8"/>
<text transform="translate(333.95,277.00) rotate(-90)" font-size="6.20" text-anchor="end" stroke="#231f20" stroke-width="0.06" textLength="22.38" lengthAdjust="spacingAndGlyphs">CCND1</text>
<line x1="338.83" y1="269.90" x2="338.83" y2="272.30" stroke="#231f20" stroke-width="0.8"/>
<text transform="translate(339.73,277.00) rotate(-90)" font-size="6.20" text-anchor="end" stroke="#231f20" stroke-width="0.06" textLength="22.02" lengthAdjust="spacingAndGlyphs">GPER1</text>
<line x1="344.62" y1="269.90" x2="344.62" y2="272.30" stroke="#231f20" stroke-width="0.8"/>
<text transform="translate(345.52,277.00) rotate(-90)" font-size="6.20" text-anchor="end" stroke="#231f20" stroke-width="0.06" textLength="16.25" lengthAdjust="spacingAndGlyphs">BCL2</text>
<line x1="350.40" y1="269.90" x2="350.40" y2="272.30" stroke="#231f20" stroke-width="0.8"/>
<text transform="translate(351.30,277.00) rotate(-90)" font-size="6.20" text-anchor="end" stroke="#231f20" stroke-width="0.06" textLength="14.44" lengthAdjust="spacingAndGlyphs">MDK</text>
<line x1="356.19" y1="269.90" x2="356.19" y2="272.30" stroke="#231f20" stroke-width="0.8"/>
<text transform="translate(357.09,277.00) rotate(-90)" font-size="6.20" text-anchor="end" stroke="#231f20" stroke-width="0.06" textLength="24.91" lengthAdjust="spacingAndGlyphs">COL1A1</text>
<line x1="361.98" y1="269.90" x2="361.98" y2="272.30" stroke="#231f20" stroke-width="0.8"/>
<text transform="translate(362.88,277.00) rotate(-90)" font-size="6.20" text-anchor="end" stroke="#231f20" stroke-width="0.06" textLength="17.33" lengthAdjust="spacingAndGlyphs">SGK1</text>
<line x1="367.76" y1="269.90" x2="367.76" y2="272.30" stroke="#231f20" stroke-width="0.8"/>
<text transform="translate(368.66,277.00) rotate(-90)" font-size="6.20" text-anchor="end" stroke="#231f20" stroke-width="0.06" textLength="12.63" lengthAdjust="spacingAndGlyphs">TNF</text>
<line x1="373.54" y1="269.90" x2="373.54" y2="272.30" stroke="#231f20" stroke-width="0.8"/>
<text transform="translate(374.44,277.00) rotate(-90)" font-size="6.20" text-anchor="end" stroke="#231f20" stroke-width="0.06" textLength="17.33" lengthAdjust="spacingAndGlyphs">SDC1</text>
<line x1="379.33" y1="269.90" x2="379.33" y2="272.30" stroke="#231f20" stroke-width="0.8"/>
<text transform="translate(380.23,277.00) rotate(-90)" font-size="6.20" text-anchor="end" stroke="#231f20" stroke-width="0.06" textLength="19.49" lengthAdjust="spacingAndGlyphs">ZFP36</text>
<line x1="385.12" y1="269.90" x2="385.12" y2="272.30" stroke="#231f20" stroke-width="0.8"/>
<text transform="translate(386.01,277.00) rotate(-90)" font-size="6.20" text-anchor="end" stroke="#231f20" stroke-width="0.06" textLength="19.13" lengthAdjust="spacingAndGlyphs">IGF1R</text>
<line x1="390.90" y1="269.90" x2="390.90" y2="272.30" stroke="#231f20" stroke-width="0.8"/>
<text transform="translate(391.80,277.00) rotate(-90)" font-size="6.20" text-anchor="end" stroke="#231f20" stroke-width="0.06" textLength="19.13" lengthAdjust="spacingAndGlyphs">TXNIP</text>
<line x1="396.69" y1="269.90" x2="396.69" y2="272.30" stroke="#231f20" stroke-width="0.8"/>
<text transform="translate(397.58,277.00) rotate(-90)" font-size="6.20" text-anchor="end" stroke="#231f20" stroke-width="0.06" textLength="16.97" lengthAdjust="spacingAndGlyphs">ESR2</text>
<line x1="402.47" y1="269.90" x2="402.47" y2="272.30" stroke="#231f20" stroke-width="0.8"/>
<text transform="translate(403.37,277.00) rotate(-90)" font-size="6.20" text-anchor="end" stroke="#231f20" stroke-width="0.06" textLength="21.30" lengthAdjust="spacingAndGlyphs">NR3C2</text>
<line x1="408.25" y1="269.90" x2="408.25" y2="272.30" stroke="#231f20" stroke-width="0.8"/>
<text transform="translate(409.15,277.00) rotate(-90)" font-size="6.20" text-anchor="end" stroke="#231f20" stroke-width="0.06" textLength="25.27" lengthAdjust="spacingAndGlyphs">SREBF1</text>
<line x1="414.04" y1="269.90" x2="414.04" y2="272.30" stroke="#231f20" stroke-width="0.8"/>
<text transform="translate(414.94,277.00) rotate(-90)" font-size="6.20" text-anchor="end" stroke="#231f20" stroke-width="0.06" textLength="18.76" lengthAdjust="spacingAndGlyphs">ZMIZ1</text>
<line x1="419.82" y1="269.90" x2="419.82" y2="272.30" stroke="#231f20" stroke-width="0.8"/>
<text transform="translate(420.72,277.00) rotate(-90)" font-size="6.20" text-anchor="end" stroke="#231f20" stroke-width="0.06" textLength="18.29" lengthAdjust="spacingAndGlyphs">PADI2</text>
<line x1="425.61" y1="269.90" x2="425.61" y2="272.30" stroke="#231f20" stroke-width="0.8"/>
<text transform="translate(426.51,277.00) rotate(-90)" font-size="6.20" text-anchor="end" stroke="#231f20" stroke-width="0.06" textLength="35.74" lengthAdjust="spacingAndGlyphs">CALCOCO1</text>
<line x1="431.39" y1="269.90" x2="431.39" y2="272.30" stroke="#231f20" stroke-width="0.8"/>
<text transform="translate(432.29,277.00) rotate(-90)" font-size="6.20" text-anchor="end" stroke="#231f20" stroke-width="0.06" textLength="15.53" lengthAdjust="spacingAndGlyphs">TP63</text>
<line x1="437.18" y1="269.90" x2="437.18" y2="272.30" stroke="#231f20" stroke-width="0.8"/>
<text transform="translate(438.08,277.00) rotate(-90)" font-size="6.20" text-anchor="end" stroke="#231f20" stroke-width="0.06" textLength="20.58" lengthAdjust="spacingAndGlyphs">FKBP4</text>
<line x1="442.97" y1="269.90" x2="442.97" y2="272.30" stroke="#231f20" stroke-width="0.8"/>
<text transform="translate(443.87,277.00) rotate(-90)" font-size="6.20" text-anchor="end" stroke="#231f20" stroke-width="0.06" textLength="18.05" lengthAdjust="spacingAndGlyphs">RXRA</text>
<line x1="448.75" y1="269.90" x2="448.75" y2="272.30" stroke="#231f20" stroke-width="0.8"/>
<text transform="translate(449.65,277.00) rotate(-90)" font-size="6.20" text-anchor="end" stroke="#231f20" stroke-width="0.06" textLength="21.54" lengthAdjust="spacingAndGlyphs">PPARA</text>
<line x1="454.53" y1="269.90" x2="454.53" y2="272.30" stroke="#231f20" stroke-width="0.8"/>
<text transform="translate(455.43,277.00) rotate(-90)" font-size="6.20" text-anchor="end" stroke="#231f20" stroke-width="0.06" textLength="20.94" lengthAdjust="spacingAndGlyphs">NR4A3</text>
<line x1="460.32" y1="269.90" x2="460.32" y2="272.30" stroke="#231f20" stroke-width="0.8"/>
<text transform="translate(461.22,277.00) rotate(-90)" font-size="6.20" text-anchor="end" stroke="#231f20" stroke-width="0.06" textLength="25.26" lengthAdjust="spacingAndGlyphs">TRERF1</text>
<line x1="466.11" y1="269.90" x2="466.11" y2="272.30" stroke="#231f20" stroke-width="0.8"/>
<text transform="translate(467.00,277.00) rotate(-90)" font-size="6.20" text-anchor="end" stroke="#231f20" stroke-width="0.06" textLength="16.97" lengthAdjust="spacingAndGlyphs">PER1</text>
<text x="362.90" y="322.90" font-size="8.60" stroke="#231f20" stroke-width="0.1" textLength="16.00" lengthAdjust="spacingAndGlyphs">Gene</text>
<circle cx="275.20" cy="198.80" r="2.7" fill="#e3262d"/>
<circle cx="280.99" cy="198.80" r="2.05" fill="#1c2a6b"/>
<circle cx="286.77" cy="198.80" r="1.9" fill="#d6604d"/>
<circle cx="292.56" cy="198.80" r="1.7" fill="#dfa99a"/>
<circle cx="298.34" cy="198.80" r="1.55" fill="#1c2a6b"/>
<circle cx="304.12" cy="198.80" r="1.5" fill="#e6c2b8"/>
<circle cx="309.91" cy="198.80" r="1.35" fill="#e8cbc3"/>
<circle cx="315.69" cy="198.80" r="1.25" fill="#2a3470"/>
<circle cx="321.48" cy="198.80" r="1.3" fill="#e6c6be"/>
<circle cx="327.26" cy="198.80" r="1.1" fill="#ead2cc"/>
<circle cx="333.05" cy="198.80" r="1.1" fill="#2e3874"/>
<circle cx="338.83" cy="198.80" r="1.45" fill="#dcdcdc"/>
<circle cx="344.62" cy="198.80" r="1.1" fill="#e3e3e3"/>
<circle cx="350.40" cy="198.80" r="1.05" fill="#3a3f6a"/>
<circle cx="356.19" cy="198.80" r="1.15" fill="#2a3472"/>
<circle cx="361.98" cy="198.80" r="1.3" fill="#cfcfdc"/>
<circle cx="367.76" cy="198.80" r="1.2" fill="#8c8ea6"/>
<circle cx="373.54" cy="198.80" r="1.1" fill="#dcdcdc"/>
<circle cx="379.33" cy="198.80" r="1.0" fill="#a8a8b0"/>
<circle cx="385.12" cy="198.80" r="1.1" fill="#ddd0d0"/>
<circle cx="390.90" cy="198.80" r="2.0" fill="#d98a8c"/>
<circle cx="396.69" cy="198.80" r="1.3" fill="#c9b2b6"/>
<circle cx="402.47" cy="198.80" r="1.15" fill="#e0b8b8"/>
<circle cx="408.25" cy="198.80" r="1.2" fill="#333a70"/>
<circle cx="414.04" cy="198.80" r="1.25" fill="#58608e"/>
<circle cx="419.82" cy="198.80" r="1.15" fill="#dccaca"/>
<circle cx="425.61" cy="198.80" r="1.1" fill="#e6e0e2"/>
<circle cx="431.39" cy="198.80" r="1.05" fill="#e8e4e8"/>
<circle cx="437.18" cy="198.80" r="1.2" fill="#3a4278"/>
<circle cx="442.97" cy="198.80" r="1.25" fill="#4a5284"/>
<circle cx="448.75" cy="198.80" r="1.15" fill="#d6d6dc"/>
<circle cx="454.53" cy="198.80" r="1.3" fill="#a0a2ae"/>
<circle cx="460.32" cy="198.80" r="1.15" fill="#d8d8dc"/>
<circle cx="466.11" cy="198.80" r="1.2" fill="#d0d0d6"/>
<circle cx="275.20" cy="226.20" r="2.7" fill="#e3262d"/>
<circle cx="280.99" cy="226.20" r="2.05" fill="#1c2a6b"/>
<circle cx="286.77" cy="226.20" r="1.9" fill="#d6604d"/>
<circle cx="292.56" cy="226.20" r="1.7" fill="#dfa99a"/>
<circle cx="298.34" cy="226.20" r="1.55" fill="#1c2a6b"/>
<circle cx="304.12" cy="226.20" r="1.5" fill="#e6c2b8"/>
<circle cx="309.91" cy="226.20" r="1.35" fill="#e8cbc3"/>
<circle cx="315.69" cy="226.20" r="1.25" fill="#2a3470"/>
<circle cx="321.48" cy="226.20" r="1.3" fill="#e6c6be"/>
<circle cx="327.26" cy="226.20" r="1.1" fill="#ead2cc"/>
<circle cx="333.05" cy="226.20" r="1.1" fill="#2e3874"/>
<circle cx="338.83" cy="226.20" r="1.45" fill="#dcdcdc"/>
<circle cx="344.62" cy="226.20" r="1.1" fill="#e3e3e3"/>
<circle cx="350.40" cy="226.20" r="1.05" fill="#3a3f6a"/>
<circle cx="356.19" cy="226.20" r="1.15" fill="#2a3472"/>
<circle cx="361.98" cy="226.20" r="1.3" fill="#cfcfdc"/>
<circle cx="367.76" cy="226.20" r="1.2" fill="#8c8ea6"/>
<circle cx="373.54" cy="226.20" r="1.1" fill="#dcdcdc"/>
<circle cx="379.33" cy="226.20" r="1.0" fill="#a8a8b0"/>
<circle cx="385.12" cy="226.20" r="1.1" fill="#ddd0d0"/>
<circle cx="275.20" cy="253.60" r="2.7" fill="#e3262d"/>
<circle cx="286.77" cy="253.60" r="1.9" fill="#d6604d"/>
<circle cx="292.56" cy="253.60" r="1.7" fill="#dfa99a"/>
<circle cx="298.34" cy="253.60" r="1.55" fill="#1c2a6b"/>
<circle cx="304.12" cy="253.60" r="1.5" fill="#e6c2b8"/>
<circle cx="309.91" cy="253.60" r="1.35" fill="#e8cbc3"/>
<circle cx="338.83" cy="253.60" r="1.45" fill="#dcdcdc"/>
<circle cx="361.98" cy="253.60" r="1.3" fill="#cfcfdc"/>
<circle cx="379.33" cy="253.60" r="1.0" fill="#a8a8b0"/>
<circle cx="385.12" cy="253.60" r="1.1" fill="#ddd0d0"/>
<text x="473.90" y="191.60" font-size="7.40" stroke="#231f20" stroke-width="0.1" textLength="37.00" lengthAdjust="spacingAndGlyphs">Fold Change</text>
<circle cx="479.6" cy="197.8" r="0.85" fill="#1c2a6b"/>
<text x="483.00" y="200.30" font-size="6.60" stroke="#231f20" stroke-width="0.1" textLength="6.75" lengthAdjust="spacingAndGlyphs">–1</text>
<circle cx="479.6" cy="205.5" r="0.85" fill="#d8d8ec"/>
<text x="483.00" y="208.00" font-size="6.60" stroke="#231f20" stroke-width="0.1" textLength="3.38" lengthAdjust="spacingAndGlyphs">0</text>
<circle cx="479.6" cy="213.0" r="0.85" fill="#e8b4b0"/>
<text x="483.00" y="215.50" font-size="6.60" stroke="#231f20" stroke-width="0.1" textLength="3.38" lengthAdjust="spacingAndGlyphs">1</text>
<text x="472.1" y="234.2" font-size="7.4" textLength="40.6" lengthAdjust="spacingAndGlyphs" stroke="#231f20" stroke-width="0.12">log10. <tspan font-style="italic">P</tspan> value</text>
<circle cx="479.6" cy="240.6" r="1.55" fill="#111"/>
<text x="485.50" y="243.30" font-size="6.60" stroke="#231f20" stroke-width="0.1" textLength="3.38" lengthAdjust="spacingAndGlyphs">5</text>
<circle cx="479.6" cy="248.3" r="1.95" fill="#111"/>
<text x="485.50" y="251.00" font-size="6.60" stroke="#231f20" stroke-width="0.1" textLength="6.75" lengthAdjust="spacingAndGlyphs">10</text>
<circle cx="479.6" cy="255.6" r="2.25" fill="#111"/>
<text x="485.50" y="258.30" font-size="6.60" stroke="#231f20" stroke-width="0.1" textLength="6.75" lengthAdjust="spacingAndGlyphs">15</text>
<circle cx="479.6" cy="263.0" r="2.55" fill="#111"/>
<text x="485.50" y="265.70" font-size="6.60" stroke="#231f20" stroke-width="0.1" textLength="6.75" lengthAdjust="spacingAndGlyphs">20</text>
<text x="17.80" y="363.90" font-size="8.80" stroke="#231f20" stroke-width="0.1" textLength="123.50" lengthAdjust="spacingAndGlyphs">Normalized Gene Signature Score</text>
<rect x="34.10" y="370.60" width="26.70" height="16.44" fill="#2b2b8f"/>
<rect x="60.80" y="370.60" width="26.70" height="16.44" fill="#f3f3fa"/>
<rect x="87.50" y="370.60" width="26.70" height="16.44" fill="#dc1f26"/>
<rect x="34.10" y="387.04" width="26.70" height="16.44" fill="#8a8ac6"/>
<rect x="60.80" y="387.04" width="26.70" height="16.44" fill="#5a5aac"/>
<rect x="87.50" y="387.04" width="26.70" height="16.44" fill="#7272b8"/>
<rect x="34.10" y="403.48" width="26.70" height="16.44" fill="#2a2a8d"/>
<rect x="60.80" y="403.48" width="26.70" height="16.44" fill="#28288a"/>
<rect x="87.50" y="403.48" width="26.70" height="16.44" fill="#c4c4e2"/>
<rect x="34.10" y="419.92" width="26.70" height="16.44" fill="#3a3a9c"/>
<rect x="60.80" y="419.92" width="26.70" height="16.44" fill="#303093"/>
<rect x="87.50" y="419.92" width="26.70" height="16.44" fill="#8787c4"/>
<rect x="34.10" y="436.36" width="26.70" height="16.44" fill="#3b3b9d"/>
<rect x="60.80" y="436.36" width="26.70" height="16.44" fill="#303093"/>
<rect x="87.50" y="436.36" width="26.70" height="16.44" fill="#8d8dc9"/>
<line x1="60.80" y1="370.60" x2="60.80" y2="452.80" stroke="#fff" stroke-width="0.8" stroke-opacity="0.75"/>
<line x1="87.50" y1="370.60" x2="87.50" y2="452.80" stroke="#fff" stroke-width="0.8" stroke-opacity="0.75"/>
<line x1="34.10" y1="387.04" x2="114.20" y2="387.04" stroke="#fff" stroke-width="0.8" stroke-opacity="0.75"/>
<line x1="34.10" y1="403.48" x2="114.20" y2="403.48" stroke="#fff" stroke-width="0.8" stroke-opacity="0.75"/>
<line x1="34.10" y1="419.92" x2="114.20" y2="419.92" stroke="#fff" stroke-width="0.8" stroke-opacity="0.75"/>
<line x1="34.10" y1="436.36" x2="114.20" y2="436.36" stroke="#fff" stroke-width="0.8" stroke-opacity="0.75"/>
<text x="118.00" y="381.12" font-size="7.00" stroke="#231f20" stroke-width="0.1" textLength="3.40" lengthAdjust="spacingAndGlyphs">B</text>
<text x="118.00" y="397.56" font-size="7.00" stroke="#231f20" stroke-width="0.1" textLength="17.00" lengthAdjust="spacingAndGlyphs">Mono</text>
<text x="118.00" y="414.00" font-size="7.00" stroke="#231f20" stroke-width="0.1" textLength="18.20" lengthAdjust="spacingAndGlyphs">CD4 T</text>
<text x="118.00" y="430.44" font-size="7.00" stroke="#231f20" stroke-width="0.1" textLength="18.20" lengthAdjust="spacingAndGlyphs">CD8 T</text>
<text x="118.00" y="446.88" font-size="7.00" stroke="#231f20" stroke-width="0.1" textLength="8.40" lengthAdjust="spacingAndGlyphs">NK</text>
<defs><linearGradient id="cbF" x1="0" y1="0" x2="0" y2="1"><stop offset="0" stop-color="#d7191c"/><stop offset="0.12" stop-color="#e0393c"/><stop offset="0.5" stop-color="#ffffff"/><stop offset="0.88" stop-color="#3b3b9e"/><stop offset="1" stop-color="#1e1e86"/></linearGradient></defs>
<rect x="138.90" y="370.90" width="5.40" height="76.60" fill="url(#cbF)"/>
<text x="148.00" y="379.60" font-size="6.80" stroke="#231f20" stroke-width="0.1" textLength="7.00" lengthAdjust="spacingAndGlyphs">1.5</text>
<text x="148.00" y="393.40" font-size="6.80" stroke="#231f20" stroke-width="0.1" textLength="3.40" lengthAdjust="spacingAndGlyphs">1</text>
<text x="148.00" y="406.70" font-size="6.80" stroke="#231f20" stroke-width="0.1" textLength="7.00" lengthAdjust="spacingAndGlyphs">0.5</text>
<text x="148.00" y="420.50" font-size="6.80" stroke="#231f20" stroke-width="0.1" textLength="3.40" lengthAdjust="spacingAndGlyphs">0</text>
<text x="147.20" y="433.30" font-size="6.80" stroke="#231f20" stroke-width="0.1" textLength="11.80" lengthAdjust="spacingAndGlyphs">–0.5</text>
<text x="147.20" y="446.80" font-size="6.80" stroke="#231f20" stroke-width="0.1" textLength="6.81" lengthAdjust="spacingAndGlyphs">–1</text>
<polyline points="33.70,378.40 6.60,378.40 6.60,409.10 26.60,409.10" fill="none" stroke="#231f20" stroke-width="0.9"/>
<polyline points="33.70,395.40 26.60,395.40 26.60,424.20 30.40,424.20" fill="none" stroke="#231f20" stroke-width="0.9"/>
<polyline points="33.70,411.90 30.40,411.90 30.40,436.40 32.60,436.40" fill="none" stroke="#231f20" stroke-width="0.9"/>
<polyline points="33.70,428.20 32.60,428.20 32.60,444.60 33.70,444.60" fill="none" stroke="#231f20" stroke-width="0.9"/>
<text transform="translate(48.30,456.70) rotate(-90)" font-size="7.00" text-anchor="end" stroke="#231f20" stroke-width="0.1" textLength="20.30" lengthAdjust="spacingAndGlyphs">Vehicle</text>
<text transform="translate(76.50,456.70) rotate(-90)" font-size="7.00" text-anchor="end" stroke="#231f20" stroke-width="0.1" textLength="41.80" lengthAdjust="spacingAndGlyphs">Af. CD19 mAb</text>
<text transform="translate(103.00,456.70) rotate(-90)" font-size="7.00" text-anchor="end" stroke="#231f20" stroke-width="0.1" textLength="28.90" lengthAdjust="spacingAndGlyphs">ABBV-319</text>
<text x="222.40" y="370.10" font-size="8.20" stroke="#231f20" stroke-width="0.1" textLength="26.30" lengthAdjust="spacingAndGlyphs">Vehicle</text>
<g filter="url(#b5)">
<path d="M225.60,404.20 C225.77,403.33 228.10,402.87 229.60,402.40 C231.10,401.93 232.93,401.67 234.60,401.40 C236.27,401.13 238.10,400.93 239.60,400.80 C241.10,400.67 242.35,400.47 243.60,400.60 C244.85,400.73 246.27,401.00 247.10,401.60 C247.93,402.20 248.60,403.17 248.60,404.20 C248.60,405.23 248.10,406.93 247.10,407.80 C246.10,408.67 244.18,409.27 242.60,409.40 C241.02,409.53 239.27,408.90 237.60,408.60 C235.93,408.30 234.10,407.77 232.60,407.60 C231.10,407.43 229.77,408.17 228.60,407.60 C227.43,407.03 225.43,405.07 225.60,404.20 Z" fill="#fdf3ef" opacity="0.8"/>
<path d="M213.10,409.00 C213.57,408.23 214.52,407.57 215.60,407.20 C216.68,406.83 218.27,406.73 219.60,406.80 C220.93,406.87 222.77,407.03 223.60,407.60 C224.43,408.17 224.77,409.23 224.60,410.20 C224.43,411.17 223.60,412.67 222.60,413.40 C221.60,414.13 219.85,414.50 218.60,414.60 C217.35,414.70 216.07,414.47 215.10,414.00 C214.13,413.53 213.13,412.63 212.80,411.80 C212.47,410.97 212.63,409.77 213.10,409.00 Z" fill="#fcf0eb" opacity="0.6"/>
<circle cx="232.0" cy="401.9" r="1.1" fill="#fdf3ef"/>
<circle cx="239.6" cy="401.2" r="1.1" fill="#fdf3ef"/>
<circle cx="236.9" cy="403.8" r="1.1" fill="#fdf3ef"/>
<circle cx="225.9" cy="405.1" r="1.1" fill="#fdf3ef"/>
<circle cx="225.5" cy="404.4" r="1.1" fill="#fdf3ef"/>
<circle cx="226.2" cy="401.3" r="1.1" fill="#fdf3ef"/>
<circle cx="234.4" cy="407.9" r="1.1" fill="#fdf3ef"/>
<circle cx="227.4" cy="402.5" r="1.1" fill="#fdf3ef"/>
<circle cx="239.0" cy="409.0" r="1.1" fill="#fdf3ef"/>
<circle cx="237.9" cy="404.1" r="1.1" fill="#fdf3ef"/>
<circle cx="247.1" cy="400.9" r="1.1" fill="#fdf3ef"/>
<circle cx="244.3" cy="403.1" r="1.1" fill="#fdf3ef"/>
<circle cx="227.9" cy="401.6" r="1.1" fill="#fdf3ef"/>
<circle cx="231.7" cy="407.8" r="1.1" fill="#fdf3ef"/>
<circle cx="228.8" cy="405.7" r="1.1" fill="#fdf3ef"/>
<circle cx="239.3" cy="403.9" r="1.1" fill="#fdf3ef"/>
<circle cx="237.2" cy="401.1" r="1.1" fill="#fdf3ef"/>
<circle cx="226.0" cy="402.4" r="1.1" fill="#fdf3ef"/>
<circle cx="240.2" cy="404.3" r="1.1" fill="#fdf3ef"/>
<circle cx="231.8" cy="405.8" r="1.1" fill="#fdf3ef"/>
<circle cx="235.0" cy="403.2" r="1.1" fill="#fdf3ef"/>
<circle cx="242.9" cy="406.8" r="1.1" fill="#fdf3ef"/>
<circle cx="230.2" cy="405.7" r="1.1" fill="#fdf3ef"/>
<circle cx="236.7" cy="408.4" r="1.1" fill="#fdf3ef"/>
<circle cx="241.4" cy="403.1" r="1.1" fill="#fdf3ef"/>
<circle cx="247.1" cy="401.6" r="1.1" fill="#fdf3ef"/>
<path d="M242.10,409.00 C242.83,408.10 244.77,407.87 246.60,407.60 C248.43,407.33 251.20,407.30 253.10,407.40 C255.00,407.50 256.52,407.67 258.00,408.20 C259.48,408.73 260.93,409.63 262.00,410.60 C263.07,411.57 263.93,412.60 264.40,414.00 C264.87,415.40 264.80,417.17 264.80,419.00 C264.80,420.83 264.73,423.23 264.40,425.00 C264.07,426.77 263.63,428.33 262.80,429.60 C261.97,430.87 260.85,431.90 259.40,432.60 C257.95,433.30 255.83,433.83 254.10,433.80 C252.37,433.77 250.42,433.23 249.00,432.40 C247.58,431.57 246.43,430.23 245.60,428.80 C244.77,427.37 244.37,425.60 244.00,423.80 C243.63,422.00 243.70,419.80 243.40,418.00 C243.10,416.20 242.42,414.50 242.20,413.00 C241.98,411.50 241.37,409.90 242.10,409.00 Z" fill="#fcefe9"/>
<circle cx="214.3" cy="412.8" r="1.0" fill="#fcf0eb"/>
<circle cx="219.8" cy="413.1" r="1.0" fill="#fcf0eb"/>
<circle cx="221.8" cy="411.8" r="1.0" fill="#fcf0eb"/>
<circle cx="218.4" cy="408.1" r="1.0" fill="#fcf0eb"/>
<circle cx="219.7" cy="409.7" r="1.0" fill="#fcf0eb"/>
<circle cx="216.9" cy="408.2" r="1.0" fill="#fcf0eb"/>
<circle cx="215.6" cy="409.8" r="1.0" fill="#fcf0eb"/>
<circle cx="221.5" cy="406.5" r="1.0" fill="#fcf0eb"/>
<circle cx="214.3" cy="411.5" r="1.0" fill="#fcf0eb"/>
<circle cx="221.9" cy="412.3" r="1.0" fill="#fcf0eb"/>
<circle cx="213.2" cy="405.5" r="1.0" fill="#fcf0eb"/>
<circle cx="219.0" cy="409.4" r="1.0" fill="#fcf0eb"/>
<circle cx="215.2" cy="413.2" r="1.0" fill="#fcf0eb"/>
<circle cx="221.0" cy="411.3" r="1.0" fill="#fcf0eb"/>
<circle cx="218.7" cy="412.0" r="1.0" fill="#fcf0eb"/>
<circle cx="222.2" cy="412.4" r="1.0" fill="#fcf0eb"/>
<circle cx="219.4" cy="412.2" r="1.0" fill="#fcf0eb"/>
<circle cx="214.0" cy="413.8" r="1.0" fill="#fcf0eb"/>
<circle cx="220.6" cy="412.2" r="1.0" fill="#fcf0eb"/>
<circle cx="213.0" cy="409.6" r="1.0" fill="#fcf0eb"/>
<ellipse cx="242.1" cy="384.5" rx="7.4" ry="2.7" fill="#f9e2d9"/>
<circle cx="251.6" cy="385.8" r="1.6" fill="#f9e2d9"/>
<ellipse cx="245.1" cy="442.3" rx="4.8" ry="2.7" fill="#fbe6df"/>
</g>
<line x1="202.60" y1="375.00" x2="202.60" y2="451.60" stroke="#231f20" stroke-width="1.2"/>
<line x1="202.00" y1="451.10" x2="268.60" y2="451.10" stroke="#231f20" stroke-width="1.2"/>
<line x1="199.80" y1="395.20" x2="202.60" y2="395.20" stroke="#231f20" stroke-width="0.9"/>
<text x="196.40" y="396.80" font-size="6.50" text-anchor="end" stroke="#231f20" stroke-width="0.1" textLength="6.14" lengthAdjust="spacingAndGlyphs">10</text>
<line x1="199.80" y1="418.90" x2="202.60" y2="418.90" stroke="#231f20" stroke-width="0.9"/>
<text x="196.40" y="420.50" font-size="6.50" text-anchor="end" stroke="#231f20" stroke-width="0.1" textLength="3.07" lengthAdjust="spacingAndGlyphs">0</text>
<line x1="199.80" y1="442.60" x2="202.60" y2="442.60" stroke="#231f20" stroke-width="0.9"/>
<text x="196.40" y="444.20" font-size="6.50" text-anchor="end" stroke="#231f20" stroke-width="0.1" textLength="9.22" lengthAdjust="spacingAndGlyphs">–10</text>
<line x1="213.80" y1="451.10" x2="213.80" y2="453.90" stroke="#231f20" stroke-width="0.9"/>
<text x="213.00" y="462.80" font-size="6.50" text-anchor="middle" stroke="#231f20" stroke-width="0.1" textLength="9.22" lengthAdjust="spacingAndGlyphs">–10</text>
<line x1="227.70" y1="451.10" x2="227.70" y2="453.90" stroke="#231f20" stroke-width="0.9"/>
<text x="226.90" y="462.80" font-size="6.50" text-anchor="middle" stroke="#231f20" stroke-width="0.1" textLength="6.14" lengthAdjust="spacingAndGlyphs">–5</text>
<line x1="242.70" y1="451.10" x2="242.70" y2="453.90" stroke="#231f20" stroke-width="0.9"/>
<text x="241.90" y="462.80" font-size="6.50" text-anchor="middle" stroke="#231f20" stroke-width="0.1" textLength="3.07" lengthAdjust="spacingAndGlyphs">0</text>
<line x1="257.50" y1="451.10" x2="257.50" y2="453.90" stroke="#231f20" stroke-width="0.9"/>
<text x="256.70" y="462.80" font-size="6.50" text-anchor="middle" stroke="#231f20" stroke-width="0.1" textLength="3.07" lengthAdjust="spacingAndGlyphs">5</text>
<text x="222.10" y="474.70" font-size="8.10" stroke="#231f20" stroke-width="0.1" textLength="26.70" lengthAdjust="spacingAndGlyphs">UMAP_1</text>
<text transform="translate(180.40,413.00) rotate(-90)" font-size="8.10" text-anchor="middle" stroke="#231f20" stroke-width="0.1" textLength="27.70" lengthAdjust="spacingAndGlyphs">UMAP_2</text>
<text x="234.40" y="386.40" font-size="6.00" fill="#3a2a28" stroke="#3a2a28" stroke-width="0.05" textLength="13.60" lengthAdjust="spacingAndGlyphs">Mono</text>
<text x="212.20" y="412.50" font-size="6.00" fill="#3a2a28" stroke="#3a2a28" stroke-width="0.05" textLength="7.60" lengthAdjust="spacingAndGlyphs">NK</text>
<text x="245.00" y="425.10" font-size="6.00" fill="#3a2a28" stroke="#3a2a28" stroke-width="0.05" textLength="15.00" lengthAdjust="spacingAndGlyphs">CD4 T</text>
<text x="211.30" y="434.80" font-size="6.00" fill="#3a2a28" stroke="#3a2a28" stroke-width="0.05" textLength="2.60" lengthAdjust="spacingAndGlyphs">B</text>
<text x="234.40" y="442.60" font-size="6.00" fill="#3a2a28" stroke="#3a2a28" stroke-width="0.05" textLength="14.80" lengthAdjust="spacingAndGlyphs">CD8 T</text>
<text x="311.10" y="370.10" font-size="8.20" stroke="#231f20" stroke-width="0.1" textLength="54.00" lengthAdjust="spacingAndGlyphs">Af. CD19 mAb</text>
<g filter="url(#b5)">
<path d="M327.20,404.20 C327.37,403.33 329.70,402.87 331.20,402.40 C332.70,401.93 334.53,401.67 336.20,401.40 C337.87,401.13 339.70,400.93 341.20,400.80 C342.70,400.67 343.95,400.47 345.20,400.60 C346.45,400.73 347.87,401.00 348.70,401.60 C349.53,402.20 350.20,403.17 350.20,404.20 C350.20,405.23 349.70,406.93 348.70,407.80 C347.70,408.67 345.78,409.27 344.20,409.40 C342.62,409.53 340.87,408.90 339.20,408.60 C337.53,408.30 335.70,407.77 334.20,407.60 C332.70,407.43 331.37,408.17 330.20,407.60 C329.03,407.03 327.03,405.07 327.20,404.20 Z" fill="#fbece6" opacity="0.8"/>
<path d="M314.70,409.00 C315.17,408.23 316.12,407.57 317.20,407.20 C318.28,406.83 319.87,406.73 321.20,406.80 C322.53,406.87 324.37,407.03 325.20,407.60 C326.03,408.17 326.37,409.23 326.20,410.20 C326.03,411.17 325.20,412.67 324.20,413.40 C323.20,414.13 321.45,414.50 320.20,414.60 C318.95,414.70 317.67,414.47 316.70,414.00 C315.73,413.53 314.73,412.63 314.40,411.80 C314.07,410.97 314.23,409.77 314.70,409.00 Z" fill="#fcf0ec" opacity="0.6"/>
<circle cx="333.6" cy="401.9" r="1.1" fill="#fbece6"/>
<circle cx="341.2" cy="401.2" r="1.1" fill="#fbece6"/>
<circle cx="338.5" cy="403.8" r="1.1" fill="#fbece6"/>
<circle cx="327.5" cy="405.1" r="1.1" fill="#fbece6"/>
<circle cx="327.1" cy="404.4" r="1.1" fill="#fbece6"/>
<circle cx="327.8" cy="401.3" r="1.1" fill="#fbece6"/>
<circle cx="336.0" cy="407.9" r="1.1" fill="#fbece6"/>
<circle cx="329.0" cy="402.5" r="1.1" fill="#fbece6"/>
<circle cx="340.6" cy="409.0" r="1.1" fill="#fbece6"/>
<circle cx="339.5" cy="404.1" r="1.1" fill="#fbece6"/>
<circle cx="348.7" cy="400.9" r="1.1" fill="#fbece6"/>
<circle cx="345.9" cy="403.1" r="1.1" fill="#fbece6"/>
<circle cx="329.5" cy="401.6" r="1.1" fill="#fbece6"/>
<circle cx="333.3" cy="407.8" r="1.1" fill="#fbece6"/>
<circle cx="330.4" cy="405.7" r="1.1" fill="#fbece6"/>
<circle cx="340.9" cy="403.9" r="1.1" fill="#fbece6"/>
<circle cx="338.8" cy="401.1" r="1.1" fill="#fbece6"/>
<circle cx="327.6" cy="402.4" r="1.1" fill="#fbece6"/>
<circle cx="341.8" cy="404.3" r="1.1" fill="#fbece6"/>
<circle cx="333.4" cy="405.8" r="1.1" fill="#fbece6"/>
<circle cx="336.6" cy="403.2" r="1.1" fill="#fbece6"/>
<circle cx="344.5" cy="406.8" r="1.1" fill="#fbece6"/>
<circle cx="331.8" cy="405.7" r="1.1" fill="#fbece6"/>
<circle cx="338.3" cy="408.4" r="1.1" fill="#fbece6"/>
<circle cx="343.0" cy="403.1" r="1.1" fill="#fbece6"/>
<circle cx="348.7" cy="401.6" r="1.1" fill="#fbece6"/>
<path d="M343.70,409.00 C344.43,408.10 346.37,407.87 348.20,407.60 C350.03,407.33 352.80,407.30 354.70,407.40 C356.60,407.50 358.12,407.67 359.60,408.20 C361.08,408.73 362.53,409.63 363.60,410.60 C364.67,411.57 365.53,412.60 366.00,414.00 C366.47,415.40 366.40,417.17 366.40,419.00 C366.40,420.83 366.33,423.23 366.00,425.00 C365.67,426.77 365.23,428.33 364.40,429.60 C363.57,430.87 362.45,431.90 361.00,432.60 C359.55,433.30 357.43,433.83 355.70,433.80 C353.97,433.77 352.02,433.23 350.60,432.40 C349.18,431.57 348.03,430.23 347.20,428.80 C346.37,427.37 345.97,425.60 345.60,423.80 C345.23,422.00 345.30,419.80 345.00,418.00 C344.70,416.20 344.02,414.50 343.80,413.00 C343.58,411.50 342.97,409.90 343.70,409.00 Z" fill="#fae6df"/>
<circle cx="315.9" cy="412.8" r="1.0" fill="#fcf0ec"/>
<circle cx="321.4" cy="413.1" r="1.0" fill="#fcf0ec"/>
<circle cx="323.4" cy="411.8" r="1.0" fill="#fcf0ec"/>
<circle cx="320.0" cy="408.1" r="1.0" fill="#fcf0ec"/>
<circle cx="321.3" cy="409.7" r="1.0" fill="#fcf0ec"/>
<circle cx="318.5" cy="408.2" r="1.0" fill="#fcf0ec"/>
<circle cx="317.2" cy="409.8" r="1.0" fill="#fcf0ec"/>
<circle cx="323.1" cy="406.5" r="1.0" fill="#fcf0ec"/>
<circle cx="315.9" cy="411.5" r="1.0" fill="#fcf0ec"/>
<circle cx="323.5" cy="412.3" r="1.0" fill="#fcf0ec"/>
<circle cx="314.8" cy="405.5" r="1.0" fill="#fcf0ec"/>
<circle cx="320.6" cy="409.4" r="1.0" fill="#fcf0ec"/>
<circle cx="316.8" cy="413.2" r="1.0" fill="#fcf0ec"/>
<circle cx="322.6" cy="411.3" r="1.0" fill="#fcf0ec"/>
<circle cx="320.3" cy="412.0" r="1.0" fill="#fcf0ec"/>
<circle cx="323.8" cy="412.4" r="1.0" fill="#fcf0ec"/>
<circle cx="321.0" cy="412.2" r="1.0" fill="#fcf0ec"/>
<circle cx="315.6" cy="413.8" r="1.0" fill="#fcf0ec"/>
<circle cx="322.2" cy="412.2" r="1.0" fill="#fcf0ec"/>
<circle cx="314.6" cy="409.6" r="1.0" fill="#fcf0ec"/>
<ellipse cx="343.7" cy="384.5" rx="7.4" ry="2.7" fill="#f7dcd2"/>
<circle cx="353.2" cy="385.8" r="1.6" fill="#f7dcd2"/>
<ellipse cx="346.7" cy="442.3" rx="4.8" ry="2.7" fill="#f9e2da"/>
<path d="M308.10,426.80 C308.47,426.23 309.98,425.20 310.80,425.20 C311.62,425.20 312.20,426.07 313.00,426.80 C313.80,427.53 314.60,428.87 315.60,429.60 C316.60,430.33 318.13,430.53 319.00,431.20 C319.87,431.87 320.60,432.77 320.80,433.60 C321.00,434.43 320.88,435.65 320.20,436.20 C319.52,436.75 317.80,436.82 316.70,436.90 C315.60,436.98 314.35,437.15 313.60,436.70 C312.85,436.25 312.67,435.22 312.20,434.20 C311.73,433.18 311.40,431.53 310.80,430.60 C310.20,429.67 309.05,429.23 308.60,428.60 C308.15,427.97 307.73,427.37 308.10,426.80 Z" fill="#e37e6c"/>
</g>
<line x1="304.20" y1="375.00" x2="304.20" y2="451.60" stroke="#231f20" stroke-width="1.2"/>
<line x1="303.60" y1="451.10" x2="370.20" y2="451.10" stroke="#231f20" stroke-width="1.2"/>
<line x1="301.40" y1="395.20" x2="304.20" y2="395.20" stroke="#231f20" stroke-width="0.9"/>
<text x="298.00" y="396.80" font-size="6.50" text-anchor="end" stroke="#231f20" stroke-width="0.1" textLength="6.14" lengthAdjust="spacingAndGlyphs">10</text>
<line x1="301.40" y1="418.90" x2="304.20" y2="418.90" stroke="#231f20" stroke-width="0.9"/>
<text x="298.00" y="420.50" font-size="6.50" text-anchor="end" stroke="#231f20" stroke-width="0.1" textLength="3.07" lengthAdjust="spacingAndGlyphs">0</text>
<line x1="301.40" y1="442.60" x2="304.20" y2="442.60" stroke="#231f20" stroke-width="0.9"/>
<text x="298.00" y="444.20" font-size="6.50" text-anchor="end" stroke="#231f20" stroke-width="0.1" textLength="9.22" lengthAdjust="spacingAndGlyphs">–10</text>
<line x1="315.40" y1="451.10" x2="315.40" y2="453.90" stroke="#231f20" stroke-width="0.9"/>
<text x="314.60" y="462.80" font-size="6.50" text-anchor="middle" stroke="#231f20" stroke-width="0.1" textLength="9.22" lengthAdjust="spacingAndGlyphs">–10</text>
<line x1="329.30" y1="451.10" x2="329.30" y2="453.90" stroke="#231f20" stroke-width="0.9"/>
<text x="328.50" y="462.80" font-size="6.50" text-anchor="middle" stroke="#231f20" stroke-width="0.1" textLength="6.14" lengthAdjust="spacingAndGlyphs">–5</text>
<line x1="344.30" y1="451.10" x2="344.30" y2="453.90" stroke="#231f20" stroke-width="0.9"/>
<text x="343.50" y="462.80" font-size="6.50" text-anchor="middle" stroke="#231f20" stroke-width="0.1" textLength="3.07" lengthAdjust="spacingAndGlyphs">0</text>
<line x1="359.10" y1="451.10" x2="359.10" y2="453.90" stroke="#231f20" stroke-width="0.9"/>
<text x="358.30" y="462.80" font-size="6.50" text-anchor="middle" stroke="#231f20" stroke-width="0.1" textLength="3.07" lengthAdjust="spacingAndGlyphs">5</text>
<text x="323.70" y="474.70" font-size="8.10" stroke="#231f20" stroke-width="0.1" textLength="26.70" lengthAdjust="spacingAndGlyphs">UMAP_1</text>
<text transform="translate(282.00,413.00) rotate(-90)" font-size="8.10" text-anchor="middle" stroke="#231f20" stroke-width="0.1" textLength="27.70" lengthAdjust="spacingAndGlyphs">UMAP_2</text>
<text x="336.00" y="386.40" font-size="6.00" fill="#3a2a28" stroke="#3a2a28" stroke-width="0.05" textLength="13.60" lengthAdjust="spacingAndGlyphs">Mono</text>
<text x="313.80" y="412.50" font-size="6.00" fill="#3a2a28" stroke="#3a2a28" stroke-width="0.05" textLength="7.60" lengthAdjust="spacingAndGlyphs">NK</text>
<text x="346.60" y="425.10" font-size="6.00" fill="#3a2a28" stroke="#3a2a28" stroke-width="0.05" textLength="15.00" lengthAdjust="spacingAndGlyphs">CD4 T</text>
<text x="312.90" y="434.80" font-size="6.00" fill="#3a2a28" stroke="#3a2a28" stroke-width="0.05" textLength="2.60" lengthAdjust="spacingAndGlyphs">B</text>
<text x="336.00" y="442.60" font-size="6.00" fill="#3a2a28" stroke="#3a2a28" stroke-width="0.05" textLength="14.80" lengthAdjust="spacingAndGlyphs">CD8 T</text>
<text x="422.30" y="370.10" font-size="8.20" stroke="#231f20" stroke-width="0.1" textLength="35.80" lengthAdjust="spacingAndGlyphs">ABBV-319</text>
<g filter="url(#b5)">
<path d="M430.10,404.20 C430.27,403.33 432.60,402.87 434.10,402.40 C435.60,401.93 437.43,401.67 439.10,401.40 C440.77,401.13 442.60,400.93 444.10,400.80 C445.60,400.67 446.85,400.47 448.10,400.60 C449.35,400.73 450.77,401.00 451.60,401.60 C452.43,402.20 453.10,403.17 453.10,404.20 C453.10,405.23 452.60,406.93 451.60,407.80 C450.60,408.67 448.68,409.27 447.10,409.40 C445.52,409.53 443.77,408.90 442.10,408.60 C440.43,408.30 438.60,407.77 437.10,407.60 C435.60,407.43 434.27,408.17 433.10,407.60 C431.93,407.03 429.93,405.07 430.10,404.20 Z" fill="#f0b8a9" opacity="0.8"/>
<path d="M417.60,409.00 C418.07,408.23 419.02,407.57 420.10,407.20 C421.18,406.83 422.77,406.73 424.10,406.80 C425.43,406.87 427.27,407.03 428.10,407.60 C428.93,408.17 429.27,409.23 429.10,410.20 C428.93,411.17 428.10,412.67 427.10,413.40 C426.10,414.13 424.35,414.50 423.10,414.60 C421.85,414.70 420.57,414.47 419.60,414.00 C418.63,413.53 417.63,412.63 417.30,411.80 C416.97,410.97 417.13,409.77 417.60,409.00 Z" fill="#dc9484" opacity="0.6"/>
<circle cx="436.5" cy="401.9" r="1.1" fill="#f0b8a9"/>
<circle cx="444.1" cy="401.2" r="1.1" fill="#f0b8a9"/>
<circle cx="441.4" cy="403.8" r="1.1" fill="#f0b8a9"/>
<circle cx="430.4" cy="405.1" r="1.1" fill="#f0b8a9"/>
<circle cx="430.0" cy="404.4" r="1.1" fill="#f0b8a9"/>
<circle cx="430.7" cy="401.3" r="1.1" fill="#f0b8a9"/>
<circle cx="438.9" cy="407.9" r="1.1" fill="#f0b8a9"/>
<circle cx="431.9" cy="402.5" r="1.1" fill="#f0b8a9"/>
<circle cx="443.5" cy="409.0" r="1.1" fill="#f0b8a9"/>
<circle cx="442.4" cy="404.1" r="1.1" fill="#f0b8a9"/>
<circle cx="451.6" cy="400.9" r="1.1" fill="#f0b8a9"/>
<circle cx="448.8" cy="403.1" r="1.1" fill="#f0b8a9"/>
<circle cx="432.4" cy="401.6" r="1.1" fill="#f0b8a9"/>
<circle cx="436.2" cy="407.8" r="1.1" fill="#f0b8a9"/>
<circle cx="433.3" cy="405.7" r="1.1" fill="#f0b8a9"/>
<circle cx="443.8" cy="403.9" r="1.1" fill="#f0b8a9"/>
<circle cx="441.7" cy="401.1" r="1.1" fill="#f0b8a9"/>
<circle cx="430.5" cy="402.4" r="1.1" fill="#f0b8a9"/>
<circle cx="444.7" cy="404.3" r="1.1" fill="#f0b8a9"/>
<circle cx="436.3" cy="405.8" r="1.1" fill="#f0b8a9"/>
<circle cx="439.5" cy="403.2" r="1.1" fill="#f0b8a9"/>
<circle cx="447.4" cy="406.8" r="1.1" fill="#f0b8a9"/>
<circle cx="434.7" cy="405.7" r="1.1" fill="#f0b8a9"/>
<circle cx="441.2" cy="408.4" r="1.1" fill="#f0b8a9"/>
<circle cx="445.9" cy="403.1" r="1.1" fill="#f0b8a9"/>
<circle cx="451.6" cy="401.6" r="1.1" fill="#f0b8a9"/>
<path d="M446.60,409.00 C447.33,408.10 449.27,407.87 451.10,407.60 C452.93,407.33 455.70,407.30 457.60,407.40 C459.50,407.50 461.02,407.67 462.50,408.20 C463.98,408.73 465.43,409.63 466.50,410.60 C467.57,411.57 468.43,412.60 468.90,414.00 C469.37,415.40 469.30,417.17 469.30,419.00 C469.30,420.83 469.23,423.23 468.90,425.00 C468.57,426.77 468.13,428.33 467.30,429.60 C466.47,430.87 465.35,431.90 463.90,432.60 C462.45,433.30 460.33,433.83 458.60,433.80 C456.87,433.77 454.92,433.23 453.50,432.40 C452.08,431.57 450.93,430.23 450.10,428.80 C449.27,427.37 448.87,425.60 448.50,423.80 C448.13,422.00 448.20,419.80 447.90,418.00 C447.60,416.20 446.92,414.50 446.70,413.00 C446.48,411.50 445.87,409.90 446.60,409.00 Z" fill="#efae9e"/>
<circle cx="418.8" cy="412.8" r="1.0" fill="#dc9484"/>
<circle cx="424.3" cy="413.1" r="1.0" fill="#dc9484"/>
<circle cx="426.3" cy="411.8" r="1.0" fill="#dc9484"/>
<circle cx="422.9" cy="408.1" r="1.0" fill="#dc9484"/>
<circle cx="424.2" cy="409.7" r="1.0" fill="#dc9484"/>
<circle cx="421.4" cy="408.2" r="1.0" fill="#dc9484"/>
<circle cx="420.1" cy="409.8" r="1.0" fill="#dc9484"/>
<circle cx="426.0" cy="406.5" r="1.0" fill="#dc9484"/>
<circle cx="418.8" cy="411.5" r="1.0" fill="#dc9484"/>
<circle cx="426.4" cy="412.3" r="1.0" fill="#dc9484"/>
<circle cx="417.7" cy="405.5" r="1.0" fill="#dc9484"/>
<circle cx="423.5" cy="409.4" r="1.0" fill="#dc9484"/>
<circle cx="419.7" cy="413.2" r="1.0" fill="#dc9484"/>
<circle cx="425.5" cy="411.3" r="1.0" fill="#dc9484"/>
<circle cx="423.2" cy="412.0" r="1.0" fill="#dc9484"/>
<circle cx="426.7" cy="412.4" r="1.0" fill="#dc9484"/>
<circle cx="423.9" cy="412.2" r="1.0" fill="#dc9484"/>
<circle cx="418.5" cy="413.8" r="1.0" fill="#dc9484"/>
<circle cx="425.1" cy="412.2" r="1.0" fill="#dc9484"/>
<circle cx="417.5" cy="409.6" r="1.0" fill="#dc9484"/>
<ellipse cx="446.6" cy="384.5" rx="7.4" ry="2.7" fill="#f2c4b6"/>
<circle cx="456.1" cy="385.8" r="1.6" fill="#f2c4b6"/>
<ellipse cx="449.6" cy="442.3" rx="4.8" ry="2.7" fill="#f2bfb1"/>
<path d="M411.00,426.80 C411.37,426.23 412.88,425.20 413.70,425.20 C414.52,425.20 415.10,426.07 415.90,426.80 C416.70,427.53 417.50,428.87 418.50,429.60 C419.50,430.33 421.03,430.53 421.90,431.20 C422.77,431.87 423.50,432.77 423.70,433.60 C423.90,434.43 423.78,435.65 423.10,436.20 C422.42,436.75 420.70,436.82 419.60,436.90 C418.50,436.98 417.25,437.15 416.50,436.70 C415.75,436.25 415.57,435.22 415.10,434.20 C414.63,433.18 414.30,431.53 413.70,430.60 C413.10,429.67 411.95,429.23 411.50,428.60 C411.05,427.97 410.63,427.37 411.00,426.80 Z" fill="#cc1212"/>
</g>
<line x1="407.10" y1="375.00" x2="407.10" y2="451.60" stroke="#231f20" stroke-width="1.2"/>
<line x1="406.50" y1="451.10" x2="473.10" y2="451.10" stroke="#231f20" stroke-width="1.2"/>
<line x1="404.30" y1="395.20" x2="407.10" y2="395.20" stroke="#231f20" stroke-width="0.9"/>
<text x="400.90" y="396.80" font-size="6.50" text-anchor="end" stroke="#231f20" stroke-width="0.1" textLength="6.14" lengthAdjust="spacingAndGlyphs">10</text>
<line x1="404.30" y1="418.90" x2="407.10" y2="418.90" stroke="#231f20" stroke-width="0.9"/>
<text x="400.90" y="420.50" font-size="6.50" text-anchor="end" stroke="#231f20" stroke-width="0.1" textLength="3.07" lengthAdjust="spacingAndGlyphs">0</text>
<line x1="404.30" y1="442.60" x2="407.10" y2="442.60" stroke="#231f20" stroke-width="0.9"/>
<text x="400.90" y="444.20" font-size="6.50" text-anchor="end" stroke="#231f20" stroke-width="0.1" textLength="9.22" lengthAdjust="spacingAndGlyphs">–10</text>
<line x1="418.30" y1="451.10" x2="418.30" y2="453.90" stroke="#231f20" stroke-width="0.9"/>
<text x="417.50" y="462.80" font-size="6.50" text-anchor="middle" stroke="#231f20" stroke-width="0.1" textLength="9.22" lengthAdjust="spacingAndGlyphs">–10</text>
<line x1="432.20" y1="451.10" x2="432.20" y2="453.90" stroke="#231f20" stroke-width="0.9"/>
<text x="431.40" y="462.80" font-size="6.50" text-anchor="middle" stroke="#231f20" stroke-width="0.1" textLength="6.14" lengthAdjust="spacingAndGlyphs">–5</text>
<line x1="447.20" y1="451.10" x2="447.20" y2="453.90" stroke="#231f20" stroke-width="0.9"/>
<text x="446.40" y="462.80" font-size="6.50" text-anchor="middle" stroke="#231f20" stroke-width="0.1" textLength="3.07" lengthAdjust="spacingAndGlyphs">0</text>
<line x1="462.00" y1="451.10" x2="462.00" y2="453.90" stroke="#231f20" stroke-width="0.9"/>
<text x="461.20" y="462.80" font-size="6.50" text-anchor="middle" stroke="#231f20" stroke-width="0.1" textLength="3.07" lengthAdjust="spacingAndGlyphs">5</text>
<text x="426.60" y="474.70" font-size="8.10" stroke="#231f20" stroke-width="0.1" textLength="26.70" lengthAdjust="spacingAndGlyphs">UMAP_1</text>
<text transform="translate(384.90,413.00) rotate(-90)" font-size="8.10" text-anchor="middle" stroke="#231f20" stroke-width="0.1" textLength="27.70" lengthAdjust="spacingAndGlyphs">UMAP_2</text>
<text x="438.90" y="386.40" font-size="6.00" fill="#3a2a28" stroke="#3a2a28" stroke-width="0.05" textLength="13.60" lengthAdjust="spacingAndGlyphs">Mono</text>
<text x="416.70" y="412.50" font-size="6.00" fill="#3a2a28" stroke="#3a2a28" stroke-width="0.05" textLength="7.60" lengthAdjust="spacingAndGlyphs">NK</text>
<text x="449.50" y="425.10" font-size="6.00" fill="#3a2a28" stroke="#3a2a28" stroke-width="0.05" textLength="15.00" lengthAdjust="spacingAndGlyphs">CD4 T</text>
<text x="415.80" y="434.80" font-size="6.00" fill="#3a2a28" stroke="#3a2a28" stroke-width="0.05" textLength="2.60" lengthAdjust="spacingAndGlyphs">B</text>
<text x="438.90" y="442.60" font-size="6.00" fill="#3a2a28" stroke="#3a2a28" stroke-width="0.05" textLength="14.80" lengthAdjust="spacingAndGlyphs">CD8 T</text>
<text x="472.30" y="379.60" font-size="6.80" stroke="#231f20" stroke-width="0.1" textLength="27.20" lengthAdjust="spacingAndGlyphs">Signature</text>
<text x="477.70" y="387.40" font-size="6.80" stroke="#231f20" stroke-width="0.1" textLength="16.30" lengthAdjust="spacingAndGlyphs">Score</text>
<defs><linearGradient id="cbG" x1="0" y1="0" x2="0" y2="1"><stop offset="0" stop-color="#d42a1a"/><stop offset="0.5" stop-color="#f08c78"/><stop offset="1" stop-color="#fff5f0"/></linearGradient></defs>
<rect x="481.30" y="391.60" width="7.40" height="33.10" fill="url(#cbG)"/>
<text x="492.40" y="402.70" font-size="6.60" stroke="#231f20" stroke-width="0.1" textLength="3.30" lengthAdjust="spacingAndGlyphs">1</text>
<text x="492.40" y="415.70" font-size="6.60" stroke="#231f20" stroke-width="0.1" textLength="3.30" lengthAdjust="spacingAndGlyphs">0</text>
<text x="491.30" y="429.10" font-size="6.60" stroke="#231f20" stroke-width="0.1" textLength="6.61" lengthAdjust="spacingAndGlyphs">–1</text><rect x="0.5" y="0.5" width="519" height="505" fill="none" stroke="#555" stroke-width="1"/></svg></body></html>
